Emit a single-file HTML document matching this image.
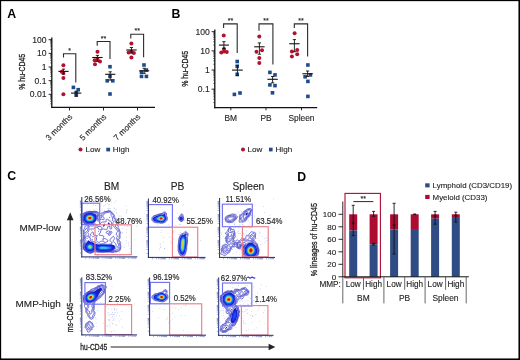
<!DOCTYPE html>
<html><head><meta charset="utf-8"><style>
html,body{margin:0;padding:0;background:#fff;}
svg{display:block;font-family:"Liberation Sans", sans-serif;}
.root{will-change:transform;}
</style></head><body>
<svg width="520" height="360" viewBox="0 0 520 360">
<rect x="0" y="0" width="520" height="360" fill="#fff"/>
<g style="opacity:0.995">
<text x="7.3" y="17.6" font-size="12.3" text-anchor="start" font-weight="bold" fill="#000" >A</text>
<line x1="51.8" y1="37.5" x2="51.8" y2="108.0" stroke="#111" stroke-width="1.3"/>
<line x1="51.199999999999996" y1="107.4" x2="155" y2="107.4" stroke="#111" stroke-width="1.3"/>
<line x1="48.599999999999994" y1="39.7" x2="51.8" y2="39.7" stroke="#111" stroke-width="0.9"/>
<text x="46.5" y="42.7" font-size="8.6" text-anchor="end" font-weight="normal" fill="#222" stroke="#222" stroke-width="0.12">100</text>
<line x1="48.599999999999994" y1="53.35" x2="51.8" y2="53.35" stroke="#111" stroke-width="0.9"/>
<text x="46.5" y="56.35" font-size="8.6" text-anchor="end" font-weight="normal" fill="#222" stroke="#222" stroke-width="0.12">10</text>
<line x1="48.599999999999994" y1="67.0" x2="51.8" y2="67.0" stroke="#111" stroke-width="0.9"/>
<text x="46.5" y="70.0" font-size="8.6" text-anchor="end" font-weight="normal" fill="#222" stroke="#222" stroke-width="0.12">1</text>
<line x1="48.599999999999994" y1="80.65" x2="51.8" y2="80.65" stroke="#111" stroke-width="0.9"/>
<text x="46.5" y="83.65" font-size="8.6" text-anchor="end" font-weight="normal" fill="#222" stroke="#222" stroke-width="0.12">0.1</text>
<line x1="48.599999999999994" y1="94.3" x2="51.8" y2="94.3" stroke="#111" stroke-width="0.9"/>
<text x="46.5" y="97.3" font-size="8.6" text-anchor="end" font-weight="normal" fill="#222" stroke="#222" stroke-width="0.12">0.01</text>
<line x1="50.199999999999996" y1="103.84094055918666" x2="51.8" y2="103.84094055918666" stroke="#111" stroke-width="0.6"/>
<line x1="50.199999999999996" y1="101.43729487307661" x2="51.8" y2="101.43729487307661" stroke="#111" stroke-width="0.6"/>
<line x1="50.199999999999996" y1="99.73188111837331" x2="51.8" y2="99.73188111837331" stroke="#111" stroke-width="0.6"/>
<line x1="50.199999999999996" y1="98.40905944081334" x2="51.8" y2="98.40905944081334" stroke="#111" stroke-width="0.6"/>
<line x1="50.199999999999996" y1="97.32823543226326" x2="51.8" y2="97.32823543226326" stroke="#111" stroke-width="0.6"/>
<line x1="50.199999999999996" y1="96.4144117538054" x2="51.8" y2="96.4144117538054" stroke="#111" stroke-width="0.6"/>
<line x1="50.199999999999996" y1="95.62282167755997" x2="51.8" y2="95.62282167755997" stroke="#111" stroke-width="0.6"/>
<line x1="50.199999999999996" y1="94.92458974615322" x2="51.8" y2="94.92458974615322" stroke="#111" stroke-width="0.6"/>
<line x1="50.199999999999996" y1="90.19094055918666" x2="51.8" y2="90.19094055918666" stroke="#111" stroke-width="0.6"/>
<line x1="50.199999999999996" y1="87.7872948730766" x2="51.8" y2="87.7872948730766" stroke="#111" stroke-width="0.6"/>
<line x1="50.199999999999996" y1="86.08188111837332" x2="51.8" y2="86.08188111837332" stroke="#111" stroke-width="0.6"/>
<line x1="50.199999999999996" y1="84.75905944081335" x2="51.8" y2="84.75905944081335" stroke="#111" stroke-width="0.6"/>
<line x1="50.199999999999996" y1="83.67823543226326" x2="51.8" y2="83.67823543226326" stroke="#111" stroke-width="0.6"/>
<line x1="50.199999999999996" y1="82.76441175380539" x2="51.8" y2="82.76441175380539" stroke="#111" stroke-width="0.6"/>
<line x1="50.199999999999996" y1="81.97282167755998" x2="51.8" y2="81.97282167755998" stroke="#111" stroke-width="0.6"/>
<line x1="50.199999999999996" y1="81.27458974615323" x2="51.8" y2="81.27458974615323" stroke="#111" stroke-width="0.6"/>
<line x1="50.199999999999996" y1="76.54094055918665" x2="51.8" y2="76.54094055918665" stroke="#111" stroke-width="0.6"/>
<line x1="50.199999999999996" y1="74.13729487307661" x2="51.8" y2="74.13729487307661" stroke="#111" stroke-width="0.6"/>
<line x1="50.199999999999996" y1="72.43188111837331" x2="51.8" y2="72.43188111837331" stroke="#111" stroke-width="0.6"/>
<line x1="50.199999999999996" y1="71.10905944081334" x2="51.8" y2="71.10905944081334" stroke="#111" stroke-width="0.6"/>
<line x1="50.199999999999996" y1="70.02823543226326" x2="51.8" y2="70.02823543226326" stroke="#111" stroke-width="0.6"/>
<line x1="50.199999999999996" y1="69.1144117538054" x2="51.8" y2="69.1144117538054" stroke="#111" stroke-width="0.6"/>
<line x1="50.199999999999996" y1="68.32282167755997" x2="51.8" y2="68.32282167755997" stroke="#111" stroke-width="0.6"/>
<line x1="50.199999999999996" y1="67.62458974615322" x2="51.8" y2="67.62458974615322" stroke="#111" stroke-width="0.6"/>
<line x1="50.199999999999996" y1="62.89094055918666" x2="51.8" y2="62.89094055918666" stroke="#111" stroke-width="0.6"/>
<line x1="50.199999999999996" y1="60.48729487307661" x2="51.8" y2="60.48729487307661" stroke="#111" stroke-width="0.6"/>
<line x1="50.199999999999996" y1="58.78188111837331" x2="51.8" y2="58.78188111837331" stroke="#111" stroke-width="0.6"/>
<line x1="50.199999999999996" y1="57.45905944081334" x2="51.8" y2="57.45905944081334" stroke="#111" stroke-width="0.6"/>
<line x1="50.199999999999996" y1="56.37823543226327" x2="51.8" y2="56.37823543226327" stroke="#111" stroke-width="0.6"/>
<line x1="50.199999999999996" y1="55.46441175380539" x2="51.8" y2="55.46441175380539" stroke="#111" stroke-width="0.6"/>
<line x1="50.199999999999996" y1="54.672821677559966" x2="51.8" y2="54.672821677559966" stroke="#111" stroke-width="0.6"/>
<line x1="50.199999999999996" y1="53.974589746153214" x2="51.8" y2="53.974589746153214" stroke="#111" stroke-width="0.6"/>
<line x1="50.199999999999996" y1="49.240940559186654" x2="51.8" y2="49.240940559186654" stroke="#111" stroke-width="0.6"/>
<line x1="50.199999999999996" y1="46.83729487307661" x2="51.8" y2="46.83729487307661" stroke="#111" stroke-width="0.6"/>
<line x1="50.199999999999996" y1="45.131881118373315" x2="51.8" y2="45.131881118373315" stroke="#111" stroke-width="0.6"/>
<line x1="50.199999999999996" y1="43.80905944081334" x2="51.8" y2="43.80905944081334" stroke="#111" stroke-width="0.6"/>
<line x1="50.199999999999996" y1="42.72823543226326" x2="51.8" y2="42.72823543226326" stroke="#111" stroke-width="0.6"/>
<line x1="50.199999999999996" y1="41.81441175380539" x2="51.8" y2="41.81441175380539" stroke="#111" stroke-width="0.6"/>
<line x1="50.199999999999996" y1="41.022821677559975" x2="51.8" y2="41.022821677559975" stroke="#111" stroke-width="0.6"/>
<line x1="50.199999999999996" y1="40.324589746153215" x2="51.8" y2="40.324589746153215" stroke="#111" stroke-width="0.6"/>
<line x1="69.5" y1="107.4" x2="69.5" y2="110.5" stroke="#111" stroke-width="0.9"/>
<text transform="translate(72.8,117.3) rotate(-45)" font-size="8.2" text-anchor="end" fill="#222" stroke="#222" stroke-width="0.12">3 months</text>
<line x1="103.5" y1="107.4" x2="103.5" y2="110.5" stroke="#111" stroke-width="0.9"/>
<text transform="translate(106.8,117.3) rotate(-45)" font-size="8.2" text-anchor="end" fill="#222" stroke="#222" stroke-width="0.12">5 months</text>
<line x1="137.5" y1="107.4" x2="137.5" y2="110.5" stroke="#111" stroke-width="0.9"/>
<text transform="translate(140.8,117.3) rotate(-45)" font-size="8.2" text-anchor="end" fill="#222" stroke="#222" stroke-width="0.12">7 months</text>
<text transform="translate(24.9,71.8) rotate(-90) scale(0.76,1)" font-size="9.2" text-anchor="middle" fill="#222" stroke="#222" stroke-width="0.3">% hu-CD45</text>
<polyline points="63.5,57.5 63.5,53.8 75.8,53.8 75.8,82.5" fill="none" stroke="#2a2a2a" stroke-width="1.1"/>
<text x="69.65" y="53.0" font-size="7" text-anchor="middle" font-weight="normal" fill="#222" stroke="#222" stroke-width="0.12">*</text>
<circle cx="63.4" cy="65.3" r="2.0" fill="#b0122e"/>
<circle cx="63.4" cy="73.0" r="2.0" fill="#b0122e"/>
<circle cx="63.4" cy="78.1" r="2.0" fill="#b0122e"/>
<circle cx="63.4" cy="94.2" r="2.0" fill="#b0122e"/>
<circle cx="61.8" cy="71.8" r="2.0" fill="#b0122e"/>
<line x1="58.4" y1="71.4" x2="68.6" y2="71.4" stroke="#111" stroke-width="1.1"/>
<line x1="63.5" y1="69.1" x2="63.5" y2="74.0" stroke="#111" stroke-width="0.9"/>
<line x1="61.9" y1="69.1" x2="65.1" y2="69.1" stroke="#111" stroke-width="0.9"/>
<line x1="61.9" y1="74.0" x2="65.1" y2="74.0" stroke="#111" stroke-width="0.9"/>
<rect x="71.60000000000001" y="85.60000000000001" width="3.6" height="3.6" fill="#1f4a8a"/>
<rect x="76.4" y="87.9" width="3.6" height="3.6" fill="#1f4a8a"/>
<rect x="74.5" y="91.2" width="3.6" height="3.6" fill="#1f4a8a"/>
<rect x="74.5" y="93.2" width="3.6" height="3.6" fill="#1f4a8a"/>
<line x1="71.0" y1="93.1" x2="81.3" y2="93.1" stroke="#111" stroke-width="1.1"/>
<line x1="76.15" y1="91.2" x2="76.15" y2="96.2" stroke="#111" stroke-width="0.9"/>
<line x1="74.55000000000001" y1="91.2" x2="77.75" y2="91.2" stroke="#111" stroke-width="0.9"/>
<line x1="74.55000000000001" y1="96.2" x2="77.75" y2="96.2" stroke="#111" stroke-width="0.9"/>
<polyline points="97.2,45.7 97.2,41.5 110.0,41.5 110.0,58.9" fill="none" stroke="#2a2a2a" stroke-width="1.1"/>
<text x="103.6" y="40.8" font-size="7" text-anchor="middle" font-weight="normal" fill="#222" stroke="#222" stroke-width="0.12">**</text>
<circle cx="97.5" cy="51.7" r="2.0" fill="#b0122e"/>
<circle cx="94.7" cy="60.3" r="2.0" fill="#b0122e"/>
<circle cx="100.0" cy="61.4" r="2.0" fill="#b0122e"/>
<circle cx="95.0" cy="64.2" r="2.0" fill="#b0122e"/>
<circle cx="97.5" cy="59.5" r="2.0" fill="#b0122e"/>
<line x1="92.2" y1="57.5" x2="102.6" y2="57.5" stroke="#111" stroke-width="1.1"/>
<line x1="97.4" y1="55.4" x2="97.4" y2="61.4" stroke="#111" stroke-width="0.9"/>
<line x1="95.80000000000001" y1="55.4" x2="99.0" y2="55.4" stroke="#111" stroke-width="0.9"/>
<line x1="95.80000000000001" y1="61.4" x2="99.0" y2="61.4" stroke="#111" stroke-width="0.9"/>
<rect x="108.2" y="64.9" width="3.6" height="3.6" fill="#1f4a8a"/>
<rect x="108.2" y="74.60000000000001" width="3.6" height="3.6" fill="#1f4a8a"/>
<rect x="105.4" y="79.0" width="3.6" height="3.6" fill="#1f4a8a"/>
<rect x="111.0" y="79.0" width="3.6" height="3.6" fill="#1f4a8a"/>
<rect x="108.2" y="92.2" width="3.6" height="3.6" fill="#1f4a8a"/>
<line x1="105.1" y1="74.3" x2="115.3" y2="74.3" stroke="#111" stroke-width="1.1"/>
<line x1="110.19999999999999" y1="71.8" x2="110.19999999999999" y2="80.1" stroke="#111" stroke-width="0.9"/>
<line x1="108.6" y1="71.8" x2="111.79999999999998" y2="71.8" stroke="#111" stroke-width="0.9"/>
<line x1="108.6" y1="80.1" x2="111.79999999999998" y2="80.1" stroke="#111" stroke-width="0.9"/>
<polyline points="130.8,38.5 130.8,34.3 143.6,34.3 143.6,57.2" fill="none" stroke="#2a2a2a" stroke-width="1.1"/>
<text x="137.2" y="33.3" font-size="7" text-anchor="middle" font-weight="normal" fill="#222" stroke="#222" stroke-width="0.12">**</text>
<circle cx="131.4" cy="43.6" r="2.0" fill="#b0122e"/>
<circle cx="128.6" cy="52.4" r="2.0" fill="#b0122e"/>
<circle cx="133.9" cy="53.1" r="2.0" fill="#b0122e"/>
<circle cx="131.4" cy="57.6" r="2.0" fill="#b0122e"/>
<circle cx="131.4" cy="51.5" r="2.0" fill="#b0122e"/>
<line x1="126.25" y1="50.0" x2="136.7" y2="50.0" stroke="#111" stroke-width="1.1"/>
<line x1="131.475" y1="47.5" x2="131.475" y2="53.0" stroke="#111" stroke-width="0.9"/>
<line x1="129.875" y1="47.5" x2="133.075" y2="47.5" stroke="#111" stroke-width="0.9"/>
<line x1="129.875" y1="53.0" x2="133.075" y2="53.0" stroke="#111" stroke-width="0.9"/>
<rect x="142.2" y="63.2" width="3.6" height="3.6" fill="#1f4a8a"/>
<rect x="139.7" y="70.4" width="3.6" height="3.6" fill="#1f4a8a"/>
<rect x="144.6" y="68.3" width="3.6" height="3.6" fill="#1f4a8a"/>
<rect x="139.7" y="74.60000000000001" width="3.6" height="3.6" fill="#1f4a8a"/>
<rect x="144.6" y="74.60000000000001" width="3.6" height="3.6" fill="#1f4a8a"/>
<line x1="139.2" y1="70.8" x2="149.2" y2="70.8" stroke="#111" stroke-width="1.1"/>
<line x1="144.2" y1="68.3" x2="144.2" y2="73.3" stroke="#111" stroke-width="0.9"/>
<line x1="142.6" y1="68.3" x2="145.79999999999998" y2="68.3" stroke="#111" stroke-width="0.9"/>
<line x1="142.6" y1="73.3" x2="145.79999999999998" y2="73.3" stroke="#111" stroke-width="0.9"/>
<circle cx="80.5" cy="149.5" r="2.0" fill="#b0122e"/>
<text x="85.6" y="152.2" font-size="8.1" text-anchor="start" font-weight="normal" fill="#222" stroke="#222" stroke-width="0.12">Low</text>
<rect x="106.3" y="147.7" width="3.8" height="3.7" fill="#1f4a8a"/>
<text x="112.8" y="152.2" font-size="8.1" text-anchor="start" font-weight="normal" fill="#222" stroke="#222" stroke-width="0.12">High</text>
<text x="171.5" y="17.9" font-size="12.3" text-anchor="start" font-weight="bold" fill="#000" >B</text>
<line x1="214.8" y1="29.5" x2="214.8" y2="108.19999999999999" stroke="#111" stroke-width="1.3"/>
<line x1="214.20000000000002" y1="107.6" x2="317.2" y2="107.6" stroke="#111" stroke-width="1.3"/>
<line x1="211.60000000000002" y1="31.659999999999997" x2="214.8" y2="31.659999999999997" stroke="#111" stroke-width="0.9"/>
<text x="209.8" y="34.66" font-size="8.6" text-anchor="end" font-weight="normal" fill="#222" stroke="#222" stroke-width="0.12">100</text>
<line x1="211.60000000000002" y1="50.83" x2="214.8" y2="50.83" stroke="#111" stroke-width="0.9"/>
<text x="209.8" y="53.83" font-size="8.6" text-anchor="end" font-weight="normal" fill="#222" stroke="#222" stroke-width="0.12">10</text>
<line x1="211.60000000000002" y1="70.0" x2="214.8" y2="70.0" stroke="#111" stroke-width="0.9"/>
<text x="209.8" y="73.0" font-size="8.6" text-anchor="end" font-weight="normal" fill="#222" stroke="#222" stroke-width="0.12">1</text>
<line x1="211.60000000000002" y1="89.17" x2="214.8" y2="89.17" stroke="#111" stroke-width="0.9"/>
<text x="209.8" y="92.17" font-size="8.6" text-anchor="end" font-weight="normal" fill="#222" stroke="#222" stroke-width="0.12">0.1</text>
<line x1="213.20000000000002" y1="102.56925498312148" x2="214.8" y2="102.56925498312148" stroke="#111" stroke-width="0.6"/>
<line x1="213.20000000000002" y1="99.19358554702407" x2="214.8" y2="99.19358554702407" stroke="#111" stroke-width="0.6"/>
<line x1="213.20000000000002" y1="96.79850996624296" x2="214.8" y2="96.79850996624296" stroke="#111" stroke-width="0.6"/>
<line x1="213.20000000000002" y1="94.94074501687852" x2="214.8" y2="94.94074501687852" stroke="#111" stroke-width="0.6"/>
<line x1="213.20000000000002" y1="93.42284053014555" x2="214.8" y2="93.42284053014555" stroke="#111" stroke-width="0.6"/>
<line x1="213.20000000000002" y1="92.1394705729267" x2="214.8" y2="92.1394705729267" stroke="#111" stroke-width="0.6"/>
<line x1="213.20000000000002" y1="91.02776494936444" x2="214.8" y2="91.02776494936444" stroke="#111" stroke-width="0.6"/>
<line x1="213.20000000000002" y1="90.04717109404814" x2="214.8" y2="90.04717109404814" stroke="#111" stroke-width="0.6"/>
<line x1="213.20000000000002" y1="83.39925498312148" x2="214.8" y2="83.39925498312148" stroke="#111" stroke-width="0.6"/>
<line x1="213.20000000000002" y1="80.02358554702407" x2="214.8" y2="80.02358554702407" stroke="#111" stroke-width="0.6"/>
<line x1="213.20000000000002" y1="77.62850996624296" x2="214.8" y2="77.62850996624296" stroke="#111" stroke-width="0.6"/>
<line x1="213.20000000000002" y1="75.77074501687852" x2="214.8" y2="75.77074501687852" stroke="#111" stroke-width="0.6"/>
<line x1="213.20000000000002" y1="74.25284053014555" x2="214.8" y2="74.25284053014555" stroke="#111" stroke-width="0.6"/>
<line x1="213.20000000000002" y1="72.9694705729267" x2="214.8" y2="72.9694705729267" stroke="#111" stroke-width="0.6"/>
<line x1="213.20000000000002" y1="71.85776494936444" x2="214.8" y2="71.85776494936444" stroke="#111" stroke-width="0.6"/>
<line x1="213.20000000000002" y1="70.87717109404814" x2="214.8" y2="70.87717109404814" stroke="#111" stroke-width="0.6"/>
<line x1="213.20000000000002" y1="64.22925498312148" x2="214.8" y2="64.22925498312148" stroke="#111" stroke-width="0.6"/>
<line x1="213.20000000000002" y1="60.85358554702407" x2="214.8" y2="60.85358554702407" stroke="#111" stroke-width="0.6"/>
<line x1="213.20000000000002" y1="58.45850996624296" x2="214.8" y2="58.45850996624296" stroke="#111" stroke-width="0.6"/>
<line x1="213.20000000000002" y1="56.60074501687852" x2="214.8" y2="56.60074501687852" stroke="#111" stroke-width="0.6"/>
<line x1="213.20000000000002" y1="55.082840530145546" x2="214.8" y2="55.082840530145546" stroke="#111" stroke-width="0.6"/>
<line x1="213.20000000000002" y1="53.799470572926694" x2="214.8" y2="53.799470572926694" stroke="#111" stroke-width="0.6"/>
<line x1="213.20000000000002" y1="52.687764949364436" x2="214.8" y2="52.687764949364436" stroke="#111" stroke-width="0.6"/>
<line x1="213.20000000000002" y1="51.707171094048135" x2="214.8" y2="51.707171094048135" stroke="#111" stroke-width="0.6"/>
<line x1="213.20000000000002" y1="45.05925498312148" x2="214.8" y2="45.05925498312148" stroke="#111" stroke-width="0.6"/>
<line x1="213.20000000000002" y1="41.683585547024066" x2="214.8" y2="41.683585547024066" stroke="#111" stroke-width="0.6"/>
<line x1="213.20000000000002" y1="39.288509966242955" x2="214.8" y2="39.288509966242955" stroke="#111" stroke-width="0.6"/>
<line x1="213.20000000000002" y1="37.43074501687852" x2="214.8" y2="37.43074501687852" stroke="#111" stroke-width="0.6"/>
<line x1="213.20000000000002" y1="35.91284053014555" x2="214.8" y2="35.91284053014555" stroke="#111" stroke-width="0.6"/>
<line x1="213.20000000000002" y1="34.62947057292669" x2="214.8" y2="34.62947057292669" stroke="#111" stroke-width="0.6"/>
<line x1="213.20000000000002" y1="33.51776494936444" x2="214.8" y2="33.51776494936444" stroke="#111" stroke-width="0.6"/>
<line x1="213.20000000000002" y1="32.53717109404814" x2="214.8" y2="32.53717109404814" stroke="#111" stroke-width="0.6"/>
<line x1="230.8" y1="107.6" x2="230.8" y2="110.3" stroke="#111" stroke-width="0.9"/>
<text x="230.8" y="121.3" font-size="8.4" text-anchor="middle" font-weight="normal" fill="#222" stroke="#222" stroke-width="0.12">BM</text>
<line x1="266.0" y1="107.6" x2="266.0" y2="110.3" stroke="#111" stroke-width="0.9"/>
<text x="266.0" y="121.3" font-size="8.4" text-anchor="middle" font-weight="normal" fill="#222" stroke="#222" stroke-width="0.12">PB</text>
<line x1="301.5" y1="107.6" x2="301.5" y2="110.3" stroke="#111" stroke-width="0.9"/>
<text x="301.5" y="121.3" font-size="8.4" text-anchor="middle" font-weight="normal" fill="#222" stroke="#222" stroke-width="0.12">Spleen</text>
<text transform="translate(187.9,68.8) rotate(-90) scale(0.76,1)" font-size="9.2" text-anchor="middle" fill="#222" stroke="#222" stroke-width="0.3">% hu-CD45</text>
<polyline points="223.6,28.0 223.6,23.9 237.2,23.9 237.2,53.0" fill="none" stroke="#2a2a2a" stroke-width="1.1"/>
<text x="230.39999999999998" y="23.4" font-size="7" text-anchor="middle" font-weight="normal" fill="#222" stroke="#222" stroke-width="0.12">**</text>
<circle cx="223.75" cy="35.4" r="2.0" fill="#b0122e"/>
<circle cx="221.3" cy="52.6" r="2.0" fill="#b0122e"/>
<circle cx="224.0" cy="51.4" r="2.0" fill="#b0122e"/>
<circle cx="226.8" cy="52.0" r="2.0" fill="#b0122e"/>
<circle cx="224" cy="49" r="2.0" fill="#b0122e"/>
<line x1="218.9" y1="45.1" x2="228.9" y2="45.1" stroke="#111" stroke-width="1.1"/>
<line x1="223.9" y1="41.7" x2="223.9" y2="48.6" stroke="#111" stroke-width="0.9"/>
<line x1="222.3" y1="41.7" x2="225.5" y2="41.7" stroke="#111" stroke-width="0.9"/>
<line x1="222.3" y1="48.6" x2="225.5" y2="48.6" stroke="#111" stroke-width="0.9"/>
<rect x="235.39999999999998" y="59.7" width="3.6" height="3.6" fill="#1f4a8a"/>
<rect x="235.39999999999998" y="64.60000000000001" width="3.6" height="3.6" fill="#1f4a8a"/>
<rect x="235.39999999999998" y="72.5" width="3.6" height="3.6" fill="#1f4a8a"/>
<rect x="232.6" y="92.60000000000001" width="3.6" height="3.6" fill="#1f4a8a"/>
<rect x="238.2" y="91.2" width="3.6" height="3.6" fill="#1f4a8a"/>
<line x1="232.0" y1="70.1" x2="242.8" y2="70.1" stroke="#111" stroke-width="1.1"/>
<line x1="237.4" y1="65.3" x2="237.4" y2="75.7" stroke="#111" stroke-width="0.9"/>
<line x1="235.8" y1="65.3" x2="239.0" y2="65.3" stroke="#111" stroke-width="0.9"/>
<line x1="235.8" y1="75.7" x2="239.0" y2="75.7" stroke="#111" stroke-width="0.9"/>
<polyline points="259.0,30.8 259.0,23.9 272.9,23.9 272.9,64.4" fill="none" stroke="#2a2a2a" stroke-width="1.1"/>
<text x="265.95" y="23.4" font-size="7" text-anchor="middle" font-weight="normal" fill="#222" stroke="#222" stroke-width="0.12">**</text>
<circle cx="259.3" cy="36.4" r="2.0" fill="#b0122e"/>
<circle cx="262.0" cy="50.3" r="2.0" fill="#b0122e"/>
<circle cx="256.5" cy="51.7" r="2.0" fill="#b0122e"/>
<circle cx="259.3" cy="58.0" r="2.0" fill="#b0122e"/>
<circle cx="259.3" cy="63.0" r="2.0" fill="#b0122e"/>
<line x1="254.2" y1="46.8" x2="264.6" y2="46.8" stroke="#111" stroke-width="1.1"/>
<line x1="259.4" y1="42.9" x2="259.4" y2="54.2" stroke="#111" stroke-width="0.9"/>
<line x1="257.79999999999995" y1="42.9" x2="261.0" y2="42.9" stroke="#111" stroke-width="0.9"/>
<line x1="257.79999999999995" y1="54.2" x2="261.0" y2="54.2" stroke="#111" stroke-width="0.9"/>
<rect x="268.09999999999997" y="70.60000000000001" width="3.6" height="3.6" fill="#1f4a8a"/>
<rect x="273.2" y="73.10000000000001" width="3.6" height="3.6" fill="#1f4a8a"/>
<rect x="268.09999999999997" y="83.10000000000001" width="3.6" height="3.6" fill="#1f4a8a"/>
<rect x="273.2" y="83.8" width="3.6" height="3.6" fill="#1f4a8a"/>
<rect x="270.7" y="91.0" width="3.6" height="3.6" fill="#1f4a8a"/>
<line x1="267.4" y1="79.3" x2="277.8" y2="79.3" stroke="#111" stroke-width="1.1"/>
<line x1="272.6" y1="76.5" x2="272.6" y2="82.8" stroke="#111" stroke-width="0.9"/>
<line x1="271.0" y1="76.5" x2="274.20000000000005" y2="76.5" stroke="#111" stroke-width="0.9"/>
<line x1="271.0" y1="82.8" x2="274.20000000000005" y2="82.8" stroke="#111" stroke-width="0.9"/>
<polyline points="294.3,28.0 294.3,23.9 307.6,23.9 307.6,56.5" fill="none" stroke="#2a2a2a" stroke-width="1.1"/>
<text x="300.95000000000005" y="23.4" font-size="7" text-anchor="middle" font-weight="normal" fill="#222" stroke="#222" stroke-width="0.12">**</text>
<circle cx="294.6" cy="33.2" r="2.0" fill="#b0122e"/>
<circle cx="291.9" cy="51.4" r="2.0" fill="#b0122e"/>
<circle cx="297.2" cy="49.9" r="2.0" fill="#b0122e"/>
<circle cx="297.2" cy="54.2" r="2.0" fill="#b0122e"/>
<circle cx="291.9" cy="56.5" r="2.0" fill="#b0122e"/>
<line x1="289.2" y1="43.75" x2="299.6" y2="43.75" stroke="#111" stroke-width="1.1"/>
<line x1="294.4" y1="39.6" x2="294.4" y2="51.7" stroke="#111" stroke-width="0.9"/>
<line x1="292.79999999999995" y1="39.6" x2="296.0" y2="39.6" stroke="#111" stroke-width="0.9"/>
<line x1="292.79999999999995" y1="51.7" x2="296.0" y2="51.7" stroke="#111" stroke-width="0.9"/>
<rect x="306.09999999999997" y="63.2" width="3.6" height="3.6" fill="#1f4a8a"/>
<rect x="303.3" y="75.0" width="3.6" height="3.6" fill="#1f4a8a"/>
<rect x="308.59999999999997" y="73.10000000000001" width="3.6" height="3.6" fill="#1f4a8a"/>
<rect x="306.09999999999997" y="79.60000000000001" width="3.6" height="3.6" fill="#1f4a8a"/>
<rect x="306.09999999999997" y="94.60000000000001" width="3.6" height="3.6" fill="#1f4a8a"/>
<line x1="302.4" y1="73.75" x2="312.8" y2="73.75" stroke="#111" stroke-width="1.1"/>
<line x1="307.6" y1="71.0" x2="307.6" y2="76.5" stroke="#111" stroke-width="0.9"/>
<line x1="306.0" y1="71.0" x2="309.20000000000005" y2="71.0" stroke="#111" stroke-width="0.9"/>
<line x1="306.0" y1="76.5" x2="309.20000000000005" y2="76.5" stroke="#111" stroke-width="0.9"/>
<circle cx="243.0" cy="149.5" r="2.0" fill="#b0122e"/>
<text x="247.6" y="152.2" font-size="8.1" text-anchor="start" font-weight="normal" fill="#222" stroke="#222" stroke-width="0.12">Low</text>
<rect x="269.0" y="147.7" width="3.6" height="3.7" fill="#1f4a8a"/>
<text x="275.5" y="152.2" font-size="8.1" text-anchor="start" font-weight="normal" fill="#222" stroke="#222" stroke-width="0.12">High</text>
<text x="7.3" y="180.4" font-size="12.3" text-anchor="start" font-weight="bold" fill="#000" >C</text>
<text x="111.7" y="190.0" font-size="10.2" text-anchor="middle" font-weight="normal" fill="#222" stroke="#222" stroke-width="0.12">BM</text>
<text x="177.6" y="190.0" font-size="10.2" text-anchor="middle" font-weight="normal" fill="#222" stroke="#222" stroke-width="0.12">PB</text>
<text x="248.4" y="190.0" font-size="10.2" text-anchor="middle" font-weight="normal" fill="#222" stroke="#222" stroke-width="0.12">Spleen</text>
<text x="40.2" y="231.1" font-size="9.95" text-anchor="middle" font-weight="normal" fill="#222" stroke="#222" stroke-width="0.12">MMP-low</text>
<text x="38.25" y="307.4" font-size="9.95" text-anchor="middle" font-weight="normal" fill="#222" stroke="#222" stroke-width="0.12">MMP-high</text>
<line x1="70.2" y1="219" x2="70.2" y2="302.6" stroke="#222" stroke-width="1.2"/>
<path d="M70.2,212.2 L66.9,220.2 L73.5,220.2 Z" fill="#222"/>
<text transform="translate(73.0,317.5) rotate(-90) scale(0.76,1)" font-size="9.2" text-anchor="middle" fill="#222" stroke="#222" stroke-width="0.3">ms-CD45</text>
<text x="0" y="0" transform="translate(80.3,350.1) scale(0.73,1)" font-size="9.2" text-anchor="start" font-weight="normal" fill="#222" stroke="#222" stroke-width="0.3">hu-CD45</text>
<line x1="110.6" y1="347.0" x2="269.5" y2="347.0" stroke="#222" stroke-width="1.2"/>
<path d="M275.3,347.0 L268.6,343.7 L268.6,350.3 Z" fill="#222"/>
<path d="M247.2,277.6 q1,-1 2,0 t2,0 t2,0 t2,0" fill="none" stroke="#2c2cd0" stroke-width="1.2"/>
<clipPath id="cp0"><rect x="82.39999999999999" y="197.0" width="54.90000000000002" height="59.299999999999955"/></clipPath>
<g clip-path="url(#cp0)">
<path d="M96.8,252.0h.7v.7h-.7zM115.7,200.5h.7v.7h-.7zM97.3,255.3h.7v.7h-.7zM128.8,224.4h.7v.7h-.7zM80.4,221.6h.7v.7h-.7zM107.7,252.5h.7v.7h-.7zM113.2,211.5h.7v.7h-.7zM95.3,205.0h.7v.7h-.7zM119.3,254.7h.7v.7h-.7zM125.7,205.8h.7v.7h-.7zM120.5,224.9h.7v.7h-.7zM131.6,223.6h.7v.7h-.7zM121.3,220.8h.7v.7h-.7zM115.0,216.4h.7v.7h-.7zM117.5,215.4h.7v.7h-.7zM126.3,231.8h.7v.7h-.7zM123.7,247.0h.7v.7h-.7zM104.6,205.6h.7v.7h-.7zM83.5,224.2h.7v.7h-.7zM87.3,194.1h.7v.7h-.7zM116.1,211.8h.7v.7h-.7zM122.4,242.9h.7v.7h-.7zM118.7,224.0h.7v.7h-.7zM110.4,195.3h.7v.7h-.7zM110.1,208.2h.7v.7h-.7zM114.4,207.7h.7v.7h-.7zM121.5,232.8h.7v.7h-.7zM105.2,204.4h.7v.7h-.7zM104.1,209.8h.7v.7h-.7zM126.1,229.2h.7v.7h-.7zM120.4,230.8h.7v.7h-.7zM118.9,215.7h.7v.7h-.7zM100.7,215.4h.7v.7h-.7zM124.8,220.0h.7v.7h-.7zM136.5,224.9h.7v.7h-.7zM111.0,202.6h.7v.7h-.7zM108.5,204.8h.7v.7h-.7zM86.9,204.5h.7v.7h-.7zM108.1,208.7h.7v.7h-.7zM103.4,205.7h.7v.7h-.7zM119.6,218.0h.7v.7h-.7zM126.0,212.5h.7v.7h-.7zM104.8,255.9h.7v.7h-.7zM116.4,213.1h.7v.7h-.7zM118.9,228.7h.7v.7h-.7zM108.8,204.1h.7v.7h-.7zM81.4,214.2h.7v.7h-.7zM126.8,226.2h.7v.7h-.7zM80.5,239.0h.7v.7h-.7zM106.9,203.3h.7v.7h-.7zM126.1,222.3h.7v.7h-.7zM105.1,196.6h.7v.7h-.7zM129.6,248.2h.7v.7h-.7zM96.7,208.8h.7v.7h-.7zM98.9,195.2h.7v.7h-.7zM80.6,241.1h.7v.7h-.7zM116.2,218.9h.7v.7h-.7zM100.9,202.1h.7v.7h-.7zM82.4,225.9h.7v.7h-.7zM101.3,212.6h.7v.7h-.7zM131.2,226.7h.7v.7h-.7zM116.4,209.6h.7v.7h-.7zM84.2,225.6h.7v.7h-.7zM100.5,202.8h.7v.7h-.7zM114.0,202.1h.7v.7h-.7zM119.3,221.6h.7v.7h-.7zM93.6,209.2h.7v.7h-.7zM121.7,231.8h.7v.7h-.7zM114.6,217.7h.7v.7h-.7zM115.1,209.4h.7v.7h-.7zM123.7,245.5h.7v.7h-.7zM128.4,246.4h.7v.7h-.7zM98.9,216.1h.7v.7h-.7zM111.4,198.5h.7v.7h-.7zM128.4,222.9h.7v.7h-.7zM128.2,242.2h.7v.7h-.7zM107.0,208.0h.7v.7h-.7zM125.9,237.1h.7v.7h-.7zM97.7,254.5h.7v.7h-.7zM114.2,210.9h.7v.7h-.7zM86.5,210.4h.7v.7h-.7zM122.0,232.4h.7v.7h-.7zM128.2,244.6h.7v.7h-.7zM116.8,255.1h.7v.7h-.7zM108.6,208.5h.7v.7h-.7zM126.2,240.3h.7v.7h-.7zM98.8,201.3h.7v.7h-.7zM125.9,211.5h.7v.7h-.7zM119.6,254.8h.7v.7h-.7zM113.8,207.8h.7v.7h-.7zM137.2,233.3h.7v.7h-.7zM82.8,230.3h.7v.7h-.7zM96.1,257.5h.7v.7h-.7zM101.6,209.3h.7v.7h-.7zM138.3,242.5h.7v.7h-.7zM121.6,220.3h.7v.7h-.7zM119.9,238.4h.7v.7h-.7zM140.1,204.9h.7v.7h-.7zM136.6,226.1h.7v.7h-.7zM121.8,228.1h.7v.7h-.7zM120.7,215.7h.7v.7h-.7zM126.1,209.4h.7v.7h-.7zM127.1,209.8h.7v.7h-.7zM98.9,216.8h.7v.7h-.7zM79.7,226.2h.7v.7h-.7zM94.4,211.7h.7v.7h-.7zM116.3,220.1h.7v.7h-.7zM125.8,242.5h.7v.7h-.7zM109.6,210.8h.7v.7h-.7zM99.9,194.9h.7v.7h-.7zM124.1,225.7h.7v.7h-.7zM108.5,210.7h.7v.7h-.7zM127.7,225.8h.7v.7h-.7zM97.4,204.8h.7v.7h-.7zM98.1,252.5h.7v.7h-.7zM100.6,205.5h.7v.7h-.7zM134.0,239.6h.7v.7h-.7zM93.3,204.7h.7v.7h-.7zM108.7,207.7h.7v.7h-.7zM118.9,252.2h.7v.7h-.7z" fill="#6f7ddc" opacity="0.55"/>
<path d="M90.9,253.3L90.1,253.3L89.1,253.1L86.9,252.2L85.9,251.6L84.9,250.9L84.2,250.2L83.3,249.0L83.0,248.2L83.0,246.0L83.4,244.2L83.4,243.5L83.2,242.5L82.6,241.2L82.5,240.8L82.8,239.2L83.7,237.0L83.4,234.5L83.6,232.5L83.5,230.0L84.7,228.2L84.8,227.8L84.8,226.8L85.1,226.2L85.6,225.9L86.1,225.8L87.4,226.1L87.7,226.0L88.0,225.5L87.8,225.0L87.4,224.8L86.1,224.8L85.4,224.5L82.7,222.2L82.3,221.8L82.3,220.2L81.7,219.0L81.5,218.2L81.7,216.8L81.6,215.5L81.9,214.5L82.6,213.7L85.6,212.2L87.6,211.6L88.9,211.3L90.1,211.3L91.9,211.6L94.4,211.2L96.1,211.4L97.4,211.8L99.2,212.8L100.1,213.6L100.4,213.6L102.9,212.7L104.1,211.8L104.6,211.5L106.4,211.4L108.4,210.5L110.4,210.9L111.4,211.6L112.7,213.5L113.9,214.4L114.3,215.0L114.5,215.5L114.2,216.8L114.3,217.2L115.4,218.0L115.8,218.5L115.9,220.6L116.4,221.4L117.3,222.0L117.6,222.5L117.6,223.2L117.0,224.5L116.9,225.2L117.1,225.4L117.9,225.5L118.3,225.8L118.4,226.2L118.0,227.0L118.0,227.5L119.2,229.2L119.6,231.0L120.5,232.5L120.0,234.5L120.1,238.0L119.8,238.5L118.9,239.1L118.7,239.5L118.8,240.0L119.8,241.0L120.7,242.5L120.4,243.8L120.9,245.8L120.7,247.8L120.6,248.8L120.1,250.1L119.9,250.5L119.4,250.9L118.1,251.2L116.9,251.9L116.1,252.0L114.4,252.0L113.1,252.7L111.4,252.5L109.6,252.0L104.4,252.2L98.4,252.2L95.1,251.5L94.4,251.7L90.9,253.3ZM99.8,216.5L100.2,216.2L100.3,216.0L100.2,215.2L99.9,215.0L99.6,215.0L99.1,215.4L98.8,216.0L98.9,216.6L99.1,216.7L99.8,216.5ZM90.9,252.8L90.1,252.8L89.4,252.6L87.1,251.9L86.4,251.5L84.8,250.2L84.0,249.2L83.5,248.2L83.5,246.5L84.0,244.0L84.1,242.5L83.9,241.8L83.5,240.8L83.5,239.8L83.6,239.0L84.2,237.5L84.3,236.8L84.1,234.5L84.4,233.0L84.2,231.5L84.3,231.0L84.6,230.5L85.3,230.0L85.9,228.7L87.1,228.3L87.6,227.9L88.8,225.8L88.9,225.2L88.6,224.8L87.7,224.2L86.1,224.2L85.6,224.0L84.0,222.8L83.3,222.0L83.0,221.5L82.7,220.0L82.0,218.5L82.2,215.8L82.4,215.0L82.9,214.2L84.1,213.4L86.1,212.6L89.1,211.8L90.1,211.7L92.1,212.0L94.6,211.8L96.1,211.9L96.9,212.2L97.6,212.6L98.3,213.2L98.6,213.8L98.6,214.5L98.0,216.5L97.9,218.0L98.2,218.8L98.9,219.0L99.4,218.8L100.1,217.9L101.6,217.7L101.7,217.2L101.6,215.2L101.8,214.5L102.3,214.0L103.4,213.5L104.5,212.2L105.1,212.0L108.9,211.4L109.6,211.4L110.4,211.7L111.4,212.5L112.4,214.2L113.3,215.2L113.4,215.8L113.3,217.2L113.4,217.8L113.6,218.1L114.6,218.5L115.1,219.0L115.0,220.5L115.5,222.0L115.6,222.3L116.2,222.8L116.5,223.2L116.2,223.8L115.5,224.8L115.4,226.2L115.9,227.0L117.0,228.0L117.6,228.8L118.4,230.2L119.4,232.8L119.2,234.2L119.2,235.2L119.0,237.5L118.0,238.5L117.9,239.2L118.1,240.4L119.0,241.5L119.2,242.8L119.8,245.0L120.2,247.8L119.9,249.1L119.5,249.8L119.1,250.0L117.9,250.4L116.9,251.2L116.1,251.4L114.4,251.3L112.4,251.7L109.6,251.6L102.1,251.9L98.1,251.7L96.1,251.1L95.1,251.0L94.4,251.2L90.9,252.8ZM90.9,252.3L89.9,252.2L86.9,251.4L85.1,250.1L84.2,248.8L83.9,248.0L83.9,247.0L84.9,242.0L84.8,241.2L84.2,240.0L84.1,239.2L84.8,237.2L85.1,235.2L85.4,234.8L86.3,234.2L86.3,234.0L85.7,233.0L85.6,232.2L85.8,232.0L86.9,231.5L87.4,231.0L87.8,229.2L89.5,226.5L89.9,226.1L90.4,225.9L92.1,226.0L93.4,225.9L94.1,225.5L94.4,225.2L94.5,224.8L94.1,224.2L93.4,223.8L92.6,223.8L90.4,224.4L89.6,224.4L87.9,223.8L86.1,223.6L84.6,222.7L83.6,221.5L83.1,219.9L82.6,218.5L82.5,217.5L82.9,215.2L83.6,214.3L84.6,213.7L89.4,212.2L90.1,212.1L92.1,212.4L95.9,212.4L97.2,213.0L97.6,213.5L97.9,214.0L97.8,214.8L97.4,216.5L97.3,217.8L97.4,218.9L97.8,219.5L98.4,219.8L99.4,220.0L99.9,219.9L100.9,219.3L101.6,219.2L103.6,219.8L103.9,219.7L104.1,219.2L104.0,217.8L103.9,217.4L103.1,217.0L102.7,216.5L102.7,215.8L102.9,215.2L104.4,214.3L104.9,213.2L105.4,212.9L107.1,212.5L108.4,212.5L109.4,212.3L109.9,212.4L110.4,212.8L110.8,213.2L111.0,214.0L111.2,215.5L112.1,216.9L112.7,219.0L112.4,220.3L112.5,220.5L113.4,220.9L113.7,221.2L113.7,221.5L113.1,222.5L112.9,223.0L112.9,225.5L113.1,225.9L114.1,226.6L114.6,227.2L115.9,228.8L116.6,230.0L117.4,230.8L117.6,231.2L117.6,231.8L116.9,232.3L116.2,234.2L116.3,234.8L117.3,235.5L117.5,236.0L117.4,236.5L116.6,237.5L116.5,238.2L117.3,241.0L117.5,242.8L118.4,244.0L118.6,244.8L118.5,245.5L117.7,246.5L117.6,247.0L117.6,247.3L118.4,247.0L118.9,247.1L119.4,247.8L119.3,248.5L118.6,249.0L117.6,248.9L117.4,249.0L116.6,250.2L116.1,250.4L114.4,250.7L112.4,251.2L107.9,251.4L102.1,251.6L98.6,251.3L96.1,250.6L95.1,250.5L94.4,250.7L92.6,251.6L90.9,252.3ZM108.1,233.5L108.4,233.4L109.1,232.4L109.9,232.0L110.4,232.5L110.9,233.3L111.4,233.3L111.6,233.2L111.8,232.8L111.9,232.2L111.6,231.6L111.1,231.2L110.7,231.2L109.9,231.7L109.0,231.0L108.6,230.9L106.4,231.8L106.2,232.5L106.6,233.2L107.4,233.5L108.1,233.5ZM109.9,235.2L110.4,234.8L110.5,234.0L110.1,233.8L108.6,233.8L108.4,234.2L108.6,235.1L109.1,235.4L109.9,235.2ZM93.2,237.0L93.3,236.8L93.1,236.5L92.8,236.5L92.6,236.8L92.6,237.1L92.9,237.2L93.2,237.0ZM92.4,240.2L92.5,240.0L92.4,239.7L91.9,239.6L91.6,239.9L91.6,240.2L91.9,240.4L92.4,240.2ZM91.4,251.6L90.1,251.7L87.9,251.3L86.9,250.9L85.9,250.2L85.2,249.5L84.8,248.8L84.5,247.8L84.5,247.0L85.0,244.8L85.9,242.5L86.0,241.5L86.0,240.5L85.2,239.2L85.3,238.5L85.8,237.0L86.1,236.3L86.6,236.1L87.9,236.1L88.5,234.8L88.7,234.2L88.6,234.0L88.0,233.2L87.7,232.8L87.9,232.2L88.9,231.0L88.9,229.5L89.1,229.1L89.6,228.9L90.6,229.1L92.1,228.9L93.8,229.0L94.1,228.7L94.9,227.6L95.6,227.3L96.9,227.3L97.9,227.6L98.2,228.0L98.4,229.0L98.6,229.2L99.6,229.7L100.6,229.6L101.9,228.8L102.1,228.2L102.0,227.8L101.7,227.2L100.9,226.6L100.1,226.4L98.9,226.7L97.9,226.2L96.6,226.0L96.4,225.8L96.3,225.0L96.1,224.5L95.1,223.7L94.5,223.2L93.4,223.1L90.6,223.7L89.4,223.7L86.1,223.1L84.9,222.2L84.2,221.5L83.8,220.8L83.1,218.0L83.3,216.2L83.8,215.0L84.4,214.4L85.1,214.0L87.1,213.3L90.1,212.6L94.4,213.3L95.9,213.3L96.7,213.8L97.0,214.2L97.0,214.8L96.7,217.0L96.9,220.5L97.1,220.8L98.6,221.0L99.3,221.2L99.6,221.8L99.6,222.8L100.1,223.3L100.6,223.4L100.9,223.3L101.6,222.4L102.1,222.0L103.6,222.1L106.1,221.7L106.4,221.5L106.4,221.2L106.0,220.5L106.1,219.8L106.6,219.2L107.4,219.2L108.1,219.4L108.6,219.7L108.8,220.0L108.9,220.8L109.1,221.0L110.4,221.1L111.1,221.6L111.4,222.0L111.4,223.0L111.9,224.5L111.8,225.2L111.4,226.5L111.8,227.5L111.8,228.0L111.4,228.8L110.6,229.0L110.1,228.8L109.9,228.5L109.8,228.0L110.1,226.8L110.0,226.5L109.1,226.2L108.2,226.2L107.9,226.6L106.9,229.6L106.4,229.7L105.4,229.3L104.4,229.2L103.1,228.9L102.4,229.0L100.8,230.8L100.4,232.8L99.2,233.5L98.9,234.0L99.0,234.8L99.4,235.1L101.9,235.6L103.1,235.7L103.5,236.0L103.7,236.5L103.6,237.5L103.4,238.2L102.7,239.0L102.9,239.6L103.1,239.6L103.3,239.5L103.9,238.6L104.6,238.6L105.6,238.8L106.6,239.3L107.8,240.2L108.2,240.8L108.2,241.0L108.0,241.2L106.9,241.9L104.6,242.6L104.4,242.6L104.1,242.4L103.7,241.0L103.1,240.7L101.9,241.3L100.6,241.3L99.4,242.4L98.6,242.4L97.4,241.8L96.2,240.5L96.6,239.0L96.2,237.2L96.4,236.8L97.4,236.0L97.5,235.8L95.9,235.7L93.3,234.8L93.2,234.2L93.4,233.2L93.3,232.5L93.1,232.1L92.9,232.0L92.1,232.4L90.4,234.0L90.5,234.5L91.1,235.2L90.8,235.8L89.9,236.3L88.6,236.5L88.5,236.8L88.7,237.2L89.1,237.7L90.1,237.7L90.4,237.8L90.5,238.2L90.2,239.8L90.4,240.5L90.7,241.0L91.1,241.4L91.6,241.6L94.6,241.8L96.4,242.9L97.4,243.8L98.5,244.2L103.6,243.7L105.6,244.2L107.9,244.4L110.7,244.0L111.9,243.5L112.1,243.2L112.2,242.8L111.9,242.2L110.6,241.7L110.1,241.2L110.0,240.5L110.2,239.2L110.6,238.6L111.6,238.2L112.4,237.0L112.9,236.4L113.4,236.3L113.6,236.4L114.1,237.2L114.6,238.5L114.5,239.0L114.2,239.5L113.1,240.5L113.0,241.2L113.4,241.8L114.9,242.8L115.4,243.3L116.0,244.5L116.2,245.2L115.9,246.8L115.9,248.2L115.6,249.0L114.9,249.6L112.6,250.6L108.1,251.1L102.4,251.2L98.6,250.9L95.7,250.0L94.9,249.9L94.1,250.1L92.6,251.1L91.4,251.6ZM109.9,217.8L109.6,217.7L109.6,217.3L110.0,217.5L110.0,217.8L109.9,217.8ZM90.9,223.0L89.4,223.1L86.9,222.7L85.6,222.1L84.6,221.2L84.1,220.0L83.7,217.5L84.1,215.8L84.4,215.2L84.9,214.8L87.6,213.7L90.4,213.2L91.4,213.3L93.1,213.8L95.1,214.6L95.7,215.0L96.0,215.8L96.1,218.2L96.0,219.8L95.4,221.0L94.9,221.8L94.1,222.2L90.9,223.0ZM91.1,251.0L90.4,251.1L88.4,250.9L87.1,250.5L85.8,249.5L85.2,248.2L85.1,247.0L85.5,245.2L85.9,244.2L86.9,242.8L88.6,241.6L89.4,241.6L90.8,242.2L92.4,242.7L95.4,244.3L97.9,245.0L98.9,245.0L101.1,244.7L108.1,245.1L111.6,244.9L113.9,246.0L114.3,246.5L114.5,247.2L114.4,248.2L113.9,249.0L112.6,249.9L111.4,250.3L108.1,250.7L102.4,250.8L98.9,250.5L95.4,249.2L94.9,249.2L94.1,249.5L92.4,250.6L91.1,251.0Z" fill="none" stroke="#2020bc" stroke-width="0.62" stroke-linejoin="round"/>
<path d="M90.6,223.3L89.9,223.3L89.4,223.3L86.6,222.8L86.1,222.6L85.4,222.2L84.9,221.8L84.4,221.2L84.0,220.2L83.6,218.2L83.6,217.5L83.7,216.5L84.0,215.5L84.4,215.0L84.9,214.5L87.4,213.6L89.4,213.1L90.4,213.0L91.1,213.1L92.9,213.5L94.4,214.0L95.4,214.2L95.9,214.5L96.1,214.8L96.3,215.5L96.3,217.8L96.3,219.2L96.0,220.2L95.4,221.6L94.9,222.2L94.4,222.4L90.6,223.3ZM110.4,225.0L109.9,225.0L108.9,224.8L108.3,224.5L107.9,224.0L107.8,223.5L107.9,223.0L108.0,222.8L108.4,222.6L108.9,222.6L109.1,222.8L109.6,223.5L109.8,223.8L110.7,224.2L110.8,224.5L110.8,224.8L110.6,224.9L110.4,225.0ZM103.9,226.6L103.4,226.7L103.0,226.5L102.8,226.2L102.8,226.0L102.8,225.8L103.4,225.0L103.7,224.0L103.9,223.8L104.4,223.7L104.9,223.8L105.3,224.0L105.4,224.2L105.4,224.5L104.9,225.2L104.4,226.2L103.9,226.6ZM91.4,231.0L91.1,231.1L91.1,231.0L91.1,230.8L91.4,230.5L91.6,230.5L91.7,230.8L91.4,231.0ZM98.6,231.5L98.4,231.5L98.0,231.2L98.1,231.0L98.6,230.8L99.0,231.0L99.1,231.2L98.9,231.5L98.6,231.5ZM87.4,238.8L87.1,238.8L86.9,238.8L86.6,238.6L86.5,238.2L86.6,237.9L86.9,237.7L87.1,237.7L87.4,237.9L87.5,238.2L87.6,238.5L87.4,238.8ZM90.6,251.3L88.1,251.0L87.1,250.7L86.4,250.2L85.6,249.5L85.3,249.0L85.0,248.2L84.9,247.5L84.9,247.0L85.5,244.5L86.4,242.9L87.3,241.8L87.9,240.5L88.1,240.3L88.4,240.3L88.6,240.4L90.8,242.0L92.9,242.6L95.3,243.8L97.9,244.8L98.9,244.8L100.4,244.6L101.4,244.5L103.9,244.6L108.1,244.9L111.4,244.6L111.9,244.6L113.1,245.0L113.9,245.1L114.3,245.2L114.6,245.8L114.9,247.2L115.0,247.8L114.9,248.2L114.6,248.7L114.4,249.0L112.9,250.0L112.4,250.2L111.6,250.4L108.1,250.8L102.4,250.9L100.1,250.8L98.9,250.6L97.9,250.4L95.6,249.5L94.9,249.4L94.1,249.7L92.6,250.7L92.1,250.9L91.4,251.2L90.6,251.3Z" fill="#161ec8"/>
<path d="M90.9,222.3L89.4,222.4L87.4,222.1L86.9,222.0L86.1,221.6L85.1,220.7L84.9,220.2L84.7,219.8L84.6,218.8L84.7,217.8L85.0,216.2L85.2,215.8L85.6,215.3L86.9,214.6L87.9,214.3L89.1,214.0L90.6,213.9L91.6,214.1L93.1,214.9L94.1,215.5L94.6,216.0L95.1,217.0L95.3,218.0L95.1,219.2L94.7,220.2L94.1,221.0L93.4,221.6L92.4,222.0L90.9,222.3ZM91.1,250.3L90.1,250.3L87.9,250.1L87.4,249.9L86.9,249.6L86.6,249.2L86.2,248.8L86.0,248.2L85.9,247.5L86.3,245.5L86.8,244.5L87.1,244.0L87.6,243.7L88.4,243.4L89.4,243.2L90.4,243.3L91.6,243.5L92.4,243.8L92.9,244.1L93.6,244.8L93.9,245.2L94.2,246.0L94.3,247.0L94.3,247.8L94.1,248.2L93.7,248.8L92.6,249.6L91.9,250.0L91.1,250.3ZM104.6,250.3L102.9,250.3L100.9,250.2L99.9,250.0L98.9,249.8L97.4,249.1L96.5,248.5L96.1,248.0L96.0,247.8L96.1,247.2L96.4,246.8L96.7,246.5L97.2,246.2L100.1,245.5L101.4,245.4L110.6,245.9L111.4,246.1L112.0,246.5L112.5,247.0L112.7,247.5L112.8,248.0L112.5,248.8L112.0,249.2L111.4,249.6L108.4,250.0L104.6,250.3Z" fill="#1435f6"/>
<path d="M90.6,221.8L89.1,221.9L88.1,221.7L87.4,221.5L86.8,221.2L86.1,220.8L85.6,220.3L85.4,220.0L85.3,219.5L85.2,218.8L85.3,217.8L85.6,216.8L85.8,216.2L86.1,215.8L87.1,215.1L87.9,214.8L88.9,214.6L90.4,214.5L91.1,214.6L91.9,214.9L93.4,215.7L94.0,216.2L94.3,216.8L94.6,217.5L94.6,218.2L94.3,219.5L93.9,220.2L93.4,220.8L92.6,221.3L91.9,221.6L90.6,221.8ZM90.9,249.8L89.9,249.8L88.1,249.5L87.4,249.2L86.8,248.5L86.6,248.0L86.6,247.5L86.7,246.5L86.8,245.8L87.1,245.2L87.4,244.8L88.1,244.3L88.9,244.0L89.6,243.9L91.1,244.1L91.9,244.4L92.4,244.7L92.8,245.0L93.1,245.5L93.3,246.0L93.4,246.8L93.4,247.5L93.3,248.0L93.0,248.5L92.1,249.2L91.4,249.6L90.9,249.8ZM105.9,249.8L102.4,249.8L100.9,249.7L99.9,249.5L98.9,249.1L97.9,248.5L97.5,248.0L97.5,247.5L97.8,247.0L98.9,246.5L100.4,246.0L101.6,245.9L105.4,246.0L109.6,246.4L110.4,246.5L110.9,246.8L111.4,247.1L111.7,247.5L111.8,248.0L111.6,248.5L111.4,248.8L110.9,249.1L108.9,249.5L105.9,249.8Z" fill="#174dfb"/>
<path d="M91.4,221.3L89.9,221.5L88.4,221.3L87.6,221.1L87.1,220.9L86.6,220.5L86.1,220.1L85.9,219.8L85.8,219.2L85.8,218.0L85.9,217.2L86.1,216.8L86.7,216.0L87.4,215.5L88.4,215.0L89.4,214.9L90.6,214.9L91.1,215.0L91.9,215.3L93.0,216.0L93.6,216.5L93.9,217.0L94.1,217.8L94.1,218.5L93.7,219.5L93.2,220.2L92.7,220.8L92.1,221.0L91.4,221.3ZM91.1,249.3L90.6,249.4L90.1,249.4L88.9,249.2L88.1,249.0L87.5,248.5L87.2,247.8L87.1,247.2L87.2,246.5L87.3,246.0L87.6,245.5L88.1,244.9L89.1,244.5L90.1,244.4L90.9,244.6L91.6,244.8L92.1,245.2L92.4,245.5L92.7,246.0L92.9,246.5L92.9,247.2L92.8,247.8L92.5,248.2L92.1,248.6L91.6,249.0L91.1,249.3ZM106.6,249.3L105.1,249.5L101.9,249.4L100.6,249.3L99.9,249.1L99.1,248.7L98.6,248.2L98.5,248.0L98.4,247.8L98.5,247.5L98.7,247.2L99.6,246.8L100.9,246.4L101.9,246.3L105.4,246.4L109.1,246.8L110.1,247.1L110.6,247.4L110.9,247.8L110.9,248.0L110.8,248.2L110.6,248.5L110.0,248.8L108.9,249.0L106.6,249.3Z" fill="#1c6dfd"/>
<path d="M90.6,221.0L89.4,221.1L88.1,220.9L87.6,220.7L87.0,220.2L86.6,219.9L86.4,219.5L86.2,219.0L86.2,218.5L86.2,217.8L86.3,217.2L86.6,216.8L86.9,216.3L87.4,215.9L87.9,215.6L88.4,215.4L89.1,215.3L90.1,215.2L90.9,215.3L91.6,215.6L92.4,216.0L93.0,216.5L93.4,217.0L93.6,217.5L93.7,218.2L93.5,219.0L93.1,219.8L92.6,220.2L92.1,220.6L91.6,220.8L90.6,221.0ZM90.4,249.0L89.4,248.9L88.4,248.6L87.9,248.1L87.7,247.5L87.6,247.0L87.7,246.5L88.0,245.8L88.6,245.2L89.4,244.9L90.4,244.9L91.4,245.2L92.1,245.8L92.4,246.5L92.4,247.2L92.1,248.0L91.6,248.5L91.3,248.8L90.9,248.9L90.4,249.0ZM106.1,249.0L105.1,249.1L101.9,249.1L101.1,249.0L100.4,248.8L99.8,248.5L99.4,248.0L99.4,247.8L99.6,247.4L100.3,247.0L101.1,246.7L101.9,246.7L105.1,246.8L108.6,247.2L109.4,247.4L109.6,247.5L109.8,247.8L109.8,248.0L109.6,248.2L109.1,248.4L106.1,249.0Z" fill="#2aa5f5"/>
<path d="M90.1,220.8L88.9,220.7L87.9,220.4L87.0,219.8L86.6,219.0L86.5,218.0L86.6,217.5L86.8,217.0L87.5,216.2L88.4,215.7L88.9,215.6L89.9,215.5L90.6,215.5L91.1,215.7L91.8,216.0L92.5,216.5L92.9,217.0L93.2,217.5L93.3,218.0L93.2,218.5L92.9,219.2L92.6,219.8L92.1,220.2L91.6,220.4L90.1,220.8ZM90.9,248.5L90.1,248.7L89.4,248.5L88.8,248.2L88.3,247.8L88.1,247.2L88.1,246.5L88.3,246.0L88.9,245.5L89.6,245.2L90.4,245.2L91.1,245.5L91.7,246.0L92.0,246.8L91.9,247.5L91.6,248.0L90.9,248.5ZM106.1,248.5L105.1,248.7L103.4,248.6L101.6,248.7L101.1,248.6L100.6,248.4L100.3,248.0L100.3,247.8L100.5,247.5L100.9,247.2L101.9,247.1L105.4,247.2L106.5,247.5L107.2,247.8L107.2,248.0L106.1,248.5Z" fill="#41cdd4"/>
<path d="M90.9,220.3L89.9,220.5L88.9,220.4L87.9,220.0L87.3,219.5L86.9,218.8L86.9,218.0L87.0,217.2L87.6,216.5L88.1,216.1L88.6,215.9L89.4,215.8L90.4,215.8L90.9,215.9L91.4,216.1L92.0,216.5L92.5,217.0L92.8,217.5L92.9,218.0L92.8,218.5L92.7,219.0L92.4,219.5L91.9,219.9L90.9,220.3ZM90.4,248.3L89.8,248.2L89.2,248.0L88.8,247.8L88.5,247.2L88.5,246.8L88.7,246.2L88.9,246.0L89.4,245.6L89.9,245.5L90.6,245.7L91.2,246.0L91.5,246.5L91.6,247.0L91.4,247.6L90.9,248.1L90.4,248.3ZM102.4,248.1L101.9,248.1L101.6,248.1L101.5,248.0L101.6,247.8L101.9,247.7L102.6,247.8L102.6,248.0L102.4,248.1Z" fill="#69dc8a"/>
<path d="M90.6,220.1L89.6,220.2L88.9,220.1L88.1,219.8L87.6,219.2L87.2,218.5L87.2,217.8L87.6,217.0L88.1,216.5L88.6,216.2L89.1,216.1L89.9,216.0L90.6,216.1L91.5,216.5L92.2,217.2L92.5,218.0L92.5,218.5L92.3,219.0L91.9,219.5L91.6,219.7L90.6,220.1ZM90.4,247.8L90.1,247.9L89.6,247.8L89.2,247.5L89.0,247.2L89.0,246.8L89.0,246.5L89.4,246.1L89.9,246.0L90.3,246.0L90.8,246.2L91.0,246.5L91.1,246.8L91.1,247.2L90.9,247.5L90.4,247.8Z" fill="#aee148"/>
<path d="M90.6,219.8L89.9,219.9L89.1,219.8L88.6,219.7L88.1,219.2L87.7,218.8L87.5,218.0L87.6,217.5L88.1,216.8L88.9,216.4L90.1,216.3L90.9,216.5L91.6,217.0L92.1,217.8L92.2,218.2L92.0,218.8L91.6,219.3L91.1,219.6L90.6,219.8ZM90.4,247.0L90.1,247.2L89.9,247.2L89.7,247.0L89.7,246.8L89.9,246.6L90.1,246.6L90.4,246.8L90.4,247.0Z" fill="#f0ce1c"/>
<path d="M90.4,219.5L89.6,219.6L89.1,219.5L88.6,219.3L88.3,219.0L88.0,218.5L87.9,218.0L88.0,217.5L88.4,217.0L89.1,216.7L90.1,216.6L90.9,216.8L91.4,217.2L91.6,217.6L91.8,218.0L91.8,218.5L91.7,218.8L91.1,219.2L90.4,219.5Z" fill="#ff8d14"/>
<path d="M89.9,219.3L89.4,219.2L88.9,219.0L88.6,218.8L88.4,218.2L88.4,217.8L88.5,217.5L88.7,217.2L89.1,217.0L89.9,216.9L90.5,217.0L91.0,217.2L91.4,217.8L91.4,218.2L91.2,218.8L90.6,219.1L89.9,219.3Z" fill="#e92610"/>
<path d="M90.4,218.8L89.6,218.9L89.1,218.6L88.9,218.2L88.9,218.0L88.9,217.8L89.2,217.5L89.6,217.3L90.1,217.3L90.7,217.5L90.9,217.8L91.0,218.2L90.9,218.5L90.4,218.8Z" fill="#d70a0a"/>
</g>
<rect x="81.8" y="203.2" width="17.900000000000006" height="21.400000000000006" fill="none" stroke="#7070f4" stroke-width="1.15"/>
<rect x="95.0" y="224.8" width="36.400000000000006" height="29.899999999999977" fill="none" stroke="#ec7e86" stroke-width="1.15"/>
<line x1="81.8" y1="197.0" x2="81.8" y2="257.4" stroke="#1c2870" stroke-width="1.0"/>
<line x1="81.3" y1="256.9" x2="137.3" y2="256.9" stroke="#1c2870" stroke-width="1.0"/>
<path d="M85.8,257.4v1.4M81.3,252.9h-1.4M89.7,257.4v1.4M81.3,249.0h-1.4M92.0,257.4v1.4M81.3,246.7h-1.4M93.6,257.4v1.4M81.3,245.1h-1.4M94.9,257.4v1.4M81.3,243.8h-1.4M95.9,257.4v1.4M81.3,242.8h-1.4M96.8,257.4v1.4M81.3,241.9h-1.4M97.5,257.4v1.4M81.3,241.2h-1.4M98.2,257.4v1.4M81.3,240.5h-1.4M98.8,257.4v1.4M81.3,239.9h-1.4M102.7,257.4v1.4M81.3,236.0h-1.4M105.0,257.4v1.4M81.3,233.7h-1.4M106.6,257.4v1.4M81.3,232.1h-1.4M107.9,257.4v1.4M81.3,230.8h-1.4M108.9,257.4v1.4M81.3,229.8h-1.4M109.8,257.4v1.4M81.3,228.9h-1.4M110.5,257.4v1.4M81.3,228.2h-1.4M111.2,257.4v1.4M81.3,227.5h-1.4M111.8,257.4v1.4M81.3,226.9h-1.4M115.7,257.4v1.4M81.3,223.0h-1.4M118.0,257.4v1.4M81.3,220.7h-1.4M119.6,257.4v1.4M81.3,219.1h-1.4M120.9,257.4v1.4M81.3,217.8h-1.4M121.9,257.4v1.4M81.3,216.8h-1.4M122.8,257.4v1.4M81.3,215.9h-1.4M123.5,257.4v1.4M81.3,215.2h-1.4M124.2,257.4v1.4M81.3,214.5h-1.4M124.8,257.4v1.4M81.3,213.9h-1.4M128.7,257.4v1.4M81.3,210.0h-1.4M131.0,257.4v1.4M81.3,207.7h-1.4M132.6,257.4v1.4M81.3,206.1h-1.4M133.9,257.4v1.4M81.3,204.8h-1.4M134.9,257.4v1.4M81.3,203.8h-1.4M135.8,257.4v1.4M81.3,202.9h-1.4M81.3,202.2h-1.4M81.3,201.5h-1.4M81.3,200.9h-1.4" stroke="#4a58a0" stroke-width="0.5" fill="none"/>
<text x="0" y="0" transform="translate(84.2,202.0) scale(0.93,1)" font-size="8.4" text-anchor="start" font-weight="normal" fill="#222" stroke="#222" stroke-width="0.15">26.56%</text>
<text x="0" y="0" transform="translate(115.8,223.8) scale(0.93,1)" font-size="8.4" text-anchor="start" font-weight="normal" fill="#222" stroke="#222" stroke-width="0.15">48.76%</text>
<clipPath id="cp1"><rect x="149.0" y="198.5" width="56.5" height="58.299999999999955"/></clipPath>
<g clip-path="url(#cp1)">
<path d="M175.6,225.3h.7v.7h-.7zM157.4,224.6h.7v.7h-.7zM179.2,234.4h.7v.7h-.7zM171.7,237.8h.7v.7h-.7zM173.2,232.3h.7v.7h-.7zM189.5,222.7h.7v.7h-.7zM159.3,248.7h.7v.7h-.7zM173.3,230.7h.7v.7h-.7zM159.8,243.3h.7v.7h-.7zM159.9,244.6h.7v.7h-.7zM161.3,213.0h.7v.7h-.7zM146.8,241.2h.7v.7h-.7zM176.4,216.9h.7v.7h-.7zM164.4,248.1h.7v.7h-.7zM180.0,232.3h.7v.7h-.7zM161.3,230.2h.7v.7h-.7zM183.1,204.4h.7v.7h-.7zM159.8,207.1h.7v.7h-.7zM173.5,238.8h.7v.7h-.7zM170.2,241.3h.7v.7h-.7zM195.3,217.6h.7v.7h-.7zM169.6,236.5h.7v.7h-.7zM167.7,233.1h.7v.7h-.7zM160.7,232.1h.7v.7h-.7zM177.5,212.8h.7v.7h-.7zM161.6,235.4h.7v.7h-.7zM168.7,224.7h.7v.7h-.7zM177.8,234.5h.7v.7h-.7zM184.3,220.3h.7v.7h-.7zM177.7,245.6h.7v.7h-.7zM183.5,213.9h.7v.7h-.7zM190.5,253.6h.7v.7h-.7zM163.5,237.3h.7v.7h-.7zM179.3,224.3h.7v.7h-.7zM168.4,226.9h.7v.7h-.7zM160.5,246.6h.7v.7h-.7zM181.6,213.4h.7v.7h-.7zM177.2,218.4h.7v.7h-.7zM200.4,240.0h.7v.7h-.7zM161.8,258.7h.7v.7h-.7zM195.7,223.1h.7v.7h-.7zM164.0,248.3h.7v.7h-.7zM168.8,236.9h.7v.7h-.7zM185.1,230.6h.7v.7h-.7zM182.4,205.6h.7v.7h-.7zM197.4,234.5h.7v.7h-.7zM179.9,224.3h.7v.7h-.7zM160.5,247.3h.7v.7h-.7zM163.3,241.6h.7v.7h-.7zM171.2,243.2h.7v.7h-.7z" fill="#6f7ddc" opacity="0.55"/>
<path d="M163.2,223.0L161.5,223.2L160.2,223.1L158.5,222.8L156.2,222.8L155.2,222.5L153.5,221.8L152.6,221.2L152.1,220.5L151.8,218.8L152.1,217.5L153.0,216.3L154.0,215.7L155.6,215.2L158.0,214.3L162.0,213.4L163.1,212.5L163.8,212.1L164.8,212.0L165.5,212.2L166.2,212.8L166.4,213.2L166.5,214.0L166.4,215.5L167.3,217.5L167.3,219.5L166.9,220.5L166.0,221.6L164.8,222.4L163.2,223.0ZM181.8,221.5L180.8,221.4L179.5,220.6L178.9,219.8L178.6,218.5L178.9,217.2L180.0,215.8L180.7,214.5L181.2,214.1L181.8,214.0L182.4,214.2L182.9,215.0L183.6,218.0L183.7,218.8L183.5,219.8L183.0,220.8L182.5,221.2L181.8,221.5ZM183.8,256.3L182.8,256.5L181.2,256.1L180.0,255.3L179.4,254.5L178.8,252.3L178.1,250.5L178.1,246.2L178.4,244.0L178.8,238.8L179.9,236.0L181.2,234.0L181.8,233.7L183.2,233.3L184.5,232.1L185.5,231.8L186.5,232.1L187.5,232.8L188.0,233.8L188.1,234.8L187.4,237.8L187.5,241.5L186.8,246.5L186.7,249.5L185.4,254.2L184.6,255.5L183.8,256.3ZM162.2,222.8L160.5,222.7L158.2,222.2L156.0,222.2L153.8,221.3L153.1,220.8L152.6,219.8L152.5,218.5L152.9,217.5L153.5,216.7L154.5,216.1L159.8,214.3L160.8,214.1L162.6,214.0L163.5,213.0L164.0,212.7L164.8,212.7L165.2,212.8L165.7,213.2L165.9,213.8L165.7,215.8L166.7,217.8L166.7,218.5L166.6,219.5L166.2,220.5L165.2,221.5L163.5,222.4L162.2,222.8ZM182.0,220.9L181.0,221.0L180.2,220.6L179.4,219.8L179.1,218.8L179.1,218.0L179.5,217.2L181.0,215.4L181.5,215.0L182.0,215.2L182.2,215.6L183.1,217.8L183.2,218.5L183.2,219.2L182.9,220.0L182.5,220.5L182.0,220.9ZM183.0,255.5L181.8,255.4L180.8,254.9L180.2,254.5L179.7,253.5L178.8,250.8L178.6,246.8L179.3,239.5L179.6,238.2L180.1,237.0L181.2,235.1L182.0,234.5L183.8,234.0L185.0,232.8L185.8,232.6L186.5,232.9L187.0,233.2L187.3,233.8L187.5,234.2L187.3,235.0L186.6,236.0L186.4,236.5L186.9,239.5L187.0,241.0L186.7,244.0L186.3,246.5L186.1,249.0L185.1,253.2L184.8,254.0L184.0,255.1L183.0,255.5Z" fill="none" stroke="#2020bc" stroke-width="0.62" stroke-linejoin="round"/>
<path d="M162.8,222.3L162.0,222.4L161.0,222.4L160.2,222.3L158.2,221.9L156.5,221.8L155.5,221.6L154.5,221.2L153.8,220.7L153.2,220.0L153.0,219.0L153.0,218.5L153.1,218.0L153.4,217.5L153.9,217.0L154.5,216.6L155.0,216.4L157.1,215.8L159.2,214.9L160.0,214.6L161.0,214.5L162.5,214.5L163.1,214.5L163.6,214.2L164.1,213.5L164.5,213.3L164.8,213.4L165.0,213.5L165.2,214.0L165.0,215.0L165.1,215.5L166.1,217.2L166.2,217.8L166.3,218.5L166.2,219.2L165.8,220.2L165.1,221.0L163.8,221.9L162.8,222.3ZM181.8,220.5L181.0,220.6L180.2,220.2L179.7,219.5L179.4,218.8L179.5,218.0L179.9,217.2L180.5,216.7L181.2,216.3L181.5,216.3L181.8,216.4L182.2,216.9L182.7,217.8L182.9,218.5L182.8,219.2L182.6,219.8L182.2,220.2L181.8,220.5ZM183.0,254.8L182.5,254.9L181.8,254.7L181.0,254.4L180.6,254.0L180.1,253.2L179.3,251.0L179.1,249.8L178.9,246.8L179.6,240.0L179.9,238.8L180.3,237.5L180.9,236.2L181.5,235.5L182.0,235.1L182.5,234.9L184.3,234.5L184.6,234.2L185.2,233.5L185.8,233.4L186.2,233.5L186.5,233.7L186.7,234.0L186.8,234.2L186.6,234.8L185.9,235.5L185.7,235.8L185.7,236.0L185.8,236.7L186.4,239.0L186.6,240.8L186.4,243.8L186.0,246.0L185.7,249.2L184.8,252.8L184.5,253.5L184.2,254.0L183.8,254.4L183.0,254.8Z" fill="#161ec8"/>
<path d="M162.2,221.8L161.2,221.8L160.2,221.7L158.4,221.2L156.5,221.0L155.5,220.6L154.8,220.2L154.3,219.8L154.1,219.0L154.2,218.2L154.5,217.8L155.2,217.2L157.5,216.4L159.2,215.6L160.0,215.3L160.8,215.1L161.5,215.1L162.8,215.3L163.5,215.6L164.2,216.0L165.1,217.0L165.4,217.5L165.5,218.0L165.6,218.8L165.2,219.8L164.5,220.6L163.2,221.5L162.2,221.8ZM181.8,219.5L181.5,219.7L181.0,219.7L180.6,219.5L180.4,219.2L180.2,218.8L180.2,218.3L180.4,218.0L180.8,217.6L181.2,217.5L181.5,217.6L181.9,218.0L182.0,218.2L182.1,218.8L182.0,219.1L181.8,219.5ZM182.8,253.5L182.0,253.6L181.5,253.4L181.0,252.9L180.5,252.0L180.2,251.2L180.0,250.2L179.7,247.8L179.6,246.8L180.0,243.2L180.1,241.0L180.3,239.8L180.6,238.8L181.1,237.5L181.8,236.5L182.0,236.2L182.5,235.8L183.2,235.6L183.8,235.7L184.2,236.0L184.6,236.5L184.9,237.0L185.3,238.0L185.6,239.0L185.8,240.0L185.8,241.0L185.7,244.0L185.1,248.8L184.9,249.8L184.4,251.5L184.0,252.5L183.5,253.1L182.8,253.5Z" fill="#1435f6"/>
<path d="M162.5,221.3L161.8,221.4L160.5,221.3L156.5,220.3L155.8,220.0L155.2,219.5L155.0,219.0L155.1,218.5L155.5,218.0L156.0,217.6L159.2,216.0L160.0,215.7L160.8,215.6L161.5,215.5L162.2,215.6L163.0,215.9L164.0,216.4L164.6,217.0L165.0,217.8L165.1,218.5L165.0,219.0L164.8,219.5L164.2,220.2L163.5,220.8L162.5,221.3ZM182.8,252.6L182.2,252.7L181.8,252.6L181.2,252.1L180.9,251.5L180.6,250.8L180.4,249.8L180.1,247.8L180.1,246.8L180.3,245.0L180.5,241.0L180.9,239.2L181.4,238.0L182.0,237.1L182.5,236.6L182.8,236.4L183.2,236.3L183.8,236.5L184.2,237.0L184.8,238.0L185.1,239.0L185.4,240.2L185.3,243.2L184.7,248.5L184.5,249.8L184.1,250.8L183.7,251.8L183.2,252.3L182.8,252.6Z" fill="#174dfb"/>
<path d="M162.2,221.0L161.2,221.1L160.2,221.0L157.1,220.0L156.5,219.7L156.0,219.2L156.0,219.0L156.0,218.5L156.2,218.2L156.8,217.8L159.2,216.4L160.0,216.1L160.8,215.9L161.2,215.8L162.0,215.9L162.8,216.1L163.5,216.5L164.2,217.2L164.6,217.8L164.7,218.5L164.5,219.2L164.0,220.0L163.2,220.6L162.2,221.0ZM182.8,251.8L182.2,251.9L182.0,251.9L181.5,251.5L181.2,251.0L180.9,250.2L180.7,249.5L180.5,247.5L180.4,246.8L180.6,245.0L180.9,241.2L181.1,239.8L181.6,238.5L182.2,237.6L182.8,237.2L183.2,237.1L183.8,237.3L184.1,237.8L184.5,238.5L184.9,239.5L185.0,240.5L185.0,243.5L184.4,248.2L184.2,249.5L183.9,250.2L183.5,251.1L183.2,251.5L182.8,251.8Z" fill="#1c6dfd"/>
<path d="M162.2,220.8L161.5,220.8L160.5,220.7L159.2,220.4L158.1,220.0L157.2,219.6L156.9,219.2L156.8,219.0L156.7,218.8L156.8,218.5L157.3,218.0L158.0,217.5L159.2,216.8L160.0,216.4L160.8,216.2L161.2,216.1L162.0,216.2L162.8,216.4L163.3,216.8L163.9,217.2L164.2,217.8L164.4,218.5L164.2,219.2L163.8,219.8L163.0,220.4L162.2,220.8ZM182.8,251.1L182.2,251.2L182.0,251.1L181.6,250.8L181.3,250.2L181.0,249.0L180.8,247.5L180.8,246.8L180.9,245.2L181.1,241.5L181.4,240.0L181.8,239.1L182.2,238.3L182.8,237.9L183.2,237.8L183.5,237.9L184.0,238.4L184.4,239.0L184.6,239.8L184.7,240.5L184.7,243.5L184.0,249.0L183.5,250.2L183.2,250.8L182.8,251.1Z" fill="#2aa5f5"/>
<path d="M162.0,220.6L161.2,220.6L160.5,220.5L159.5,220.2L158.8,219.9L158.0,219.5L157.7,219.2L157.5,219.0L157.5,218.8L157.5,218.5L157.9,218.0L158.8,217.3L159.5,216.8L160.2,216.5L160.8,216.4L161.5,216.4L162.2,216.5L162.8,216.7L163.5,217.2L163.9,217.8L164.1,218.2L164.1,218.8L163.8,219.4L163.2,220.0L162.8,220.3L162.0,220.6ZM182.5,250.5L182.2,250.5L182.0,250.4L181.8,250.1L181.5,249.6L181.2,248.0L181.1,246.8L181.3,245.2L181.4,241.8L181.7,240.2L181.9,239.5L182.2,239.0L182.8,238.5L183.2,238.4L183.8,238.7L184.0,239.0L184.2,239.5L184.4,240.0L184.4,240.8L184.4,243.8L183.8,248.0L183.6,249.0L183.2,250.0L182.8,250.4L182.5,250.5Z" fill="#41cdd4"/>
<path d="M162.0,220.3L161.5,220.4L160.8,220.3L159.8,220.1L159.0,219.7L158.5,219.4L158.1,219.0L158.1,218.8L158.2,218.2L158.6,217.8L159.2,217.3L159.8,217.0L160.5,216.7L161.0,216.6L161.8,216.6L162.8,217.0L163.2,217.4L163.6,217.8L163.8,218.2L163.8,218.8L163.5,219.2L163.1,219.8L162.5,220.1L162.0,220.3ZM182.5,249.8L182.2,249.8L182.0,249.6L181.8,249.2L181.5,247.8L181.4,247.0L181.6,245.2L181.6,243.0L181.8,241.2L182.1,240.0L182.6,239.2L183.0,239.0L183.2,239.0L183.5,239.2L183.8,239.4L184.0,239.8L184.1,240.2L184.1,243.8L183.4,248.5L183.0,249.4L182.8,249.7L182.5,249.8Z" fill="#69dc8a"/>
<path d="M162.0,220.1L161.5,220.1L160.8,220.1L160.0,219.9L159.2,219.6L158.8,219.2L158.6,219.0L158.5,218.8L158.6,218.2L159.3,217.5L160.0,217.1L160.5,216.9L161.5,216.8L162.0,216.9L162.5,217.1L163.0,217.5L163.3,217.8L163.5,218.2L163.5,218.8L163.2,219.2L163.0,219.5L162.5,219.9L162.0,220.1ZM182.5,248.9L182.2,248.7L182.0,248.2L181.8,247.2L182.0,245.5L181.8,244.0L181.9,243.0L182.0,241.8L182.3,240.5L182.8,239.8L183.0,239.7L183.2,239.7L183.6,240.0L183.8,240.5L183.8,243.8L183.4,245.8L183.2,247.1L183.1,248.0L182.8,248.7L182.5,248.9Z" fill="#aee148"/>
<path d="M162.0,219.8L161.5,219.9L161.0,219.9L160.3,219.8L159.7,219.5L159.3,219.2L159.1,219.0L158.9,218.8L159.0,218.2L159.4,217.8L159.7,217.5L160.5,217.1L161.0,217.0L161.5,217.0L162.2,217.3L162.9,217.8L163.1,218.0L163.2,218.5L163.1,219.0L162.9,219.2L162.5,219.6L162.0,219.8ZM183.0,245.0L182.8,245.2L182.5,244.9L182.2,244.2L182.2,243.5L182.2,242.5L182.5,241.5L182.8,241.0L183.0,240.7L183.3,241.0L183.5,243.5L183.4,244.2L183.0,245.0Z" fill="#f0ce1c"/>
<path d="M162.0,219.6L161.5,219.7L161.0,219.7L160.0,219.4L159.5,219.0L159.3,218.8L159.4,218.2L159.8,217.8L160.2,217.5L160.8,217.3L161.5,217.3L162.2,217.5L162.7,218.0L162.9,218.5L162.7,219.0L162.5,219.3L162.0,219.6Z" fill="#ff8d14"/>
<path d="M162.0,219.3L161.2,219.4L160.4,219.2L160.0,219.0L159.8,218.8L159.7,218.5L159.8,218.2L160.2,217.8L160.8,217.6L161.5,217.5L162.0,217.7L162.3,218.0L162.5,218.5L162.3,219.0L162.0,219.3Z" fill="#e92610"/>
<path d="M161.8,219.0L161.2,219.1L160.6,219.0L160.3,218.8L160.2,218.5L160.2,218.2L160.5,218.0L161.0,217.8L161.5,217.8L161.8,218.0L162.0,218.2L162.1,218.5L162.0,218.8L161.8,219.0Z" fill="#d70a0a"/>
</g>
<rect x="148.4" y="204.6" width="24.0" height="22.599999999999994" fill="none" stroke="#7070f4" stroke-width="1.15"/>
<rect x="172.4" y="227.2" width="25.299999999999983" height="29.80000000000001" fill="none" stroke="#ec7e86" stroke-width="1.15"/>
<line x1="148.4" y1="198.5" x2="148.4" y2="257.9" stroke="#1c2870" stroke-width="1.0"/>
<line x1="147.9" y1="257.4" x2="205.5" y2="257.4" stroke="#1c2870" stroke-width="1.0"/>
<path d="M152.4,257.9v1.4M147.9,253.4h-1.4M156.3,257.9v1.4M147.9,249.5h-1.4M158.6,257.9v1.4M147.9,247.2h-1.4M160.2,257.9v1.4M147.9,245.6h-1.4M161.5,257.9v1.4M147.9,244.3h-1.4M162.5,257.9v1.4M147.9,243.3h-1.4M163.4,257.9v1.4M147.9,242.4h-1.4M164.1,257.9v1.4M147.9,241.7h-1.4M164.8,257.9v1.4M147.9,241.0h-1.4M165.4,257.9v1.4M147.9,240.4h-1.4M169.3,257.9v1.4M147.9,236.5h-1.4M171.6,257.9v1.4M147.9,234.2h-1.4M173.2,257.9v1.4M147.9,232.6h-1.4M174.5,257.9v1.4M147.9,231.3h-1.4M175.5,257.9v1.4M147.9,230.3h-1.4M176.4,257.9v1.4M147.9,229.4h-1.4M177.1,257.9v1.4M147.9,228.7h-1.4M177.8,257.9v1.4M147.9,228.0h-1.4M178.4,257.9v1.4M147.9,227.4h-1.4M182.3,257.9v1.4M147.9,223.5h-1.4M184.6,257.9v1.4M147.9,221.2h-1.4M186.2,257.9v1.4M147.9,219.6h-1.4M187.5,257.9v1.4M147.9,218.3h-1.4M188.5,257.9v1.4M147.9,217.3h-1.4M189.4,257.9v1.4M147.9,216.4h-1.4M190.1,257.9v1.4M147.9,215.7h-1.4M190.8,257.9v1.4M147.9,215.0h-1.4M191.4,257.9v1.4M147.9,214.4h-1.4M195.3,257.9v1.4M147.9,210.5h-1.4M197.6,257.9v1.4M147.9,208.2h-1.4M199.2,257.9v1.4M147.9,206.6h-1.4M200.5,257.9v1.4M147.9,205.3h-1.4M201.5,257.9v1.4M147.9,204.3h-1.4M202.4,257.9v1.4M147.9,203.4h-1.4M203.1,257.9v1.4M147.9,202.7h-1.4M203.8,257.9v1.4M147.9,202.0h-1.4M204.4,257.9v1.4M147.9,201.4h-1.4" stroke="#4a58a0" stroke-width="0.5" fill="none"/>
<text x="0" y="0" transform="translate(152.4,202.7) scale(0.93,1)" font-size="8.4" text-anchor="start" font-weight="normal" fill="#222" stroke="#222" stroke-width="0.15">40.92%</text>
<text x="0" y="0" transform="translate(186.4,223.6) scale(0.93,1)" font-size="8.4" text-anchor="start" font-weight="normal" fill="#222" stroke="#222" stroke-width="0.15">55.25%</text>
<clipPath id="cp2"><rect x="220.2" y="198.0" width="54.80000000000001" height="58.799999999999955"/></clipPath>
<g clip-path="url(#cp2)">
<path d="M254.9,232.5h.7v.7h-.7zM240.3,214.8h.7v.7h-.7zM248.2,235.9h.7v.7h-.7zM238.3,230.7h.7v.7h-.7zM234.1,230.0h.7v.7h-.7zM268.4,238.9h.7v.7h-.7zM245.0,236.9h.7v.7h-.7zM260.0,244.0h.7v.7h-.7zM240.3,233.3h.7v.7h-.7zM238.6,228.4h.7v.7h-.7zM247.8,224.9h.7v.7h-.7zM236.6,204.6h.7v.7h-.7zM224.6,231.9h.7v.7h-.7zM243.7,225.6h.7v.7h-.7zM232.6,222.6h.7v.7h-.7zM220.3,215.5h.7v.7h-.7zM242.5,233.3h.7v.7h-.7zM257.6,243.0h.7v.7h-.7zM258.9,231.6h.7v.7h-.7zM273.4,228.0h.7v.7h-.7zM269.7,214.7h.7v.7h-.7zM242.5,233.0h.7v.7h-.7zM232.3,249.3h.7v.7h-.7zM233.6,221.7h.7v.7h-.7zM251.2,215.2h.7v.7h-.7zM240.7,223.8h.7v.7h-.7zM242.1,231.1h.7v.7h-.7zM237.4,216.5h.7v.7h-.7zM243.2,225.6h.7v.7h-.7zM244.1,235.3h.7v.7h-.7zM239.8,219.0h.7v.7h-.7zM221.6,206.1h.7v.7h-.7zM260.3,232.4h.7v.7h-.7zM225.0,220.7h.7v.7h-.7zM256.1,219.1h.7v.7h-.7zM263.6,252.9h.7v.7h-.7zM246.0,230.2h.7v.7h-.7zM241.0,236.9h.7v.7h-.7zM246.7,234.3h.7v.7h-.7zM272.9,196.8h.7v.7h-.7zM259.1,233.2h.7v.7h-.7zM259.2,249.6h.7v.7h-.7zM241.3,235.5h.7v.7h-.7zM234.5,235.4h.7v.7h-.7zM232.4,252.9h.7v.7h-.7zM249.1,222.5h.7v.7h-.7zM239.1,214.3h.7v.7h-.7zM243.2,233.7h.7v.7h-.7zM262.8,225.4h.7v.7h-.7zM235.8,213.5h.7v.7h-.7zM237.8,211.6h.7v.7h-.7zM244.8,221.5h.7v.7h-.7zM238.9,224.7h.7v.7h-.7zM264.0,238.1h.7v.7h-.7zM257.7,225.4h.7v.7h-.7zM258.6,234.9h.7v.7h-.7zM257.4,217.5h.7v.7h-.7zM264.0,212.0h.7v.7h-.7zM239.5,254.4h.7v.7h-.7zM264.1,220.7h.7v.7h-.7zM240.0,221.9h.7v.7h-.7zM261.7,243.7h.7v.7h-.7zM266.9,218.5h.7v.7h-.7zM234.1,223.5h.7v.7h-.7zM247.7,221.1h.7v.7h-.7zM239.0,233.1h.7v.7h-.7zM246.4,231.8h.7v.7h-.7zM251.6,214.7h.7v.7h-.7zM234.2,224.2h.7v.7h-.7zM243.5,197.1h.7v.7h-.7zM258.9,240.6h.7v.7h-.7zM251.5,209.4h.7v.7h-.7zM235.5,237.1h.7v.7h-.7zM273.0,198.5h.7v.7h-.7zM217.7,225.6h.7v.7h-.7zM237.5,231.8h.7v.7h-.7zM236.7,235.4h.7v.7h-.7zM264.5,242.3h.7v.7h-.7zM233.2,226.1h.7v.7h-.7zM234.9,226.8h.7v.7h-.7zM225.1,242.7h.7v.7h-.7zM242.6,232.5h.7v.7h-.7zM221.2,234.3h.7v.7h-.7zM237.9,227.2h.7v.7h-.7zM242.3,224.0h.7v.7h-.7zM241.1,252.4h.7v.7h-.7zM265.0,257.2h.7v.7h-.7zM232.5,230.5h.7v.7h-.7zM224.6,243.1h.7v.7h-.7zM241.3,211.3h.7v.7h-.7zM237.9,233.1h.7v.7h-.7zM254.0,215.8h.7v.7h-.7zM239.2,215.8h.7v.7h-.7zM267.8,222.0h.7v.7h-.7zM249.0,235.4h.7v.7h-.7zM261.9,235.9h.7v.7h-.7zM266.5,222.6h.7v.7h-.7zM256.8,238.3h.7v.7h-.7zM236.9,242.1h.7v.7h-.7zM266.4,240.0h.7v.7h-.7zM228.6,224.4h.7v.7h-.7zM223.9,238.1h.7v.7h-.7zM222.6,236.3h.7v.7h-.7zM265.9,237.5h.7v.7h-.7zM243.3,244.6h.7v.7h-.7zM243.6,233.0h.7v.7h-.7zM260.9,221.6h.7v.7h-.7zM217.2,233.9h.7v.7h-.7zM236.4,251.7h.7v.7h-.7zM224.5,229.0h.7v.7h-.7zM239.3,215.4h.7v.7h-.7zM248.1,219.8h.7v.7h-.7zM219.8,195.7h.7v.7h-.7zM226.9,228.9h.7v.7h-.7zM217.1,220.1h.7v.7h-.7zM217.1,216.7h.7v.7h-.7zM228.9,252.5h.7v.7h-.7zM251.8,218.4h.7v.7h-.7zM263.1,206.3h.7v.7h-.7zM220.9,232.5h.7v.7h-.7z" fill="#6f7ddc" opacity="0.55"/>
<path d="M242.9,222.3L241.4,221.9L240.7,221.9L239.4,222.3L239.2,222.0L239.7,216.2L240.0,215.2L240.4,214.8L242.1,213.8L243.6,211.5L246.1,210.0L246.9,209.1L247.7,208.9L249.9,208.6L250.7,208.7L251.2,208.9L251.6,209.5L251.7,210.2L250.6,213.0L250.2,215.0L249.5,216.2L248.7,217.1L247.2,218.0L246.9,218.5L246.7,219.8L246.2,220.5L244.4,221.4L243.4,222.1L242.9,222.3ZM231.7,222.5L230.4,222.5L229.2,222.7L227.2,222.3L226.4,222.0L226.0,221.5L225.6,220.8L225.1,219.0L225.1,218.0L225.9,216.6L226.3,216.2L229.2,215.1L230.9,214.6L231.9,213.9L232.7,213.9L233.7,214.2L235.2,214.3L235.7,214.7L236.2,215.5L237.2,216.5L237.4,217.2L236.7,218.2L235.8,219.8L234.3,220.8L232.9,222.0L231.7,222.5ZM254.7,259.3L252.9,259.4L250.4,259.3L249.2,258.8L247.4,258.6L246.1,258.0L244.2,256.3L243.9,255.8L243.5,254.2L242.7,253.4L242.5,253.0L242.5,251.5L242.0,250.0L242.1,249.0L243.2,247.3L243.7,246.0L243.7,245.2L243.4,245.0L242.9,244.8L242.2,244.8L241.6,245.2L241.2,246.3L240.8,248.2L240.5,248.8L240.2,248.9L239.4,248.9L238.2,248.4L237.4,248.0L235.7,246.7L235.2,246.6L233.9,246.9L232.4,246.9L232.1,247.0L231.5,247.8L231.1,249.5L230.4,250.5L230.0,251.8L228.2,253.1L226.7,253.9L225.9,255.0L225.2,255.5L224.7,255.7L223.9,255.6L223.3,255.2L222.4,254.2L222.2,254.1L221.2,254.4L220.6,254.0L220.4,253.5L220.5,253.2L220.9,253.0L221.4,252.9L221.7,252.7L221.8,252.5L221.8,252.0L221.4,251.0L221.1,249.2L221.3,248.8L222.1,247.5L222.2,246.2L222.4,245.8L222.9,245.3L225.4,244.5L226.9,244.3L227.5,244.0L228.0,243.5L227.9,243.2L226.9,242.9L226.5,242.5L226.1,242.0L225.9,241.2L225.8,239.5L225.5,238.5L225.5,237.8L225.8,237.0L226.7,236.0L227.0,235.2L226.7,234.8L225.6,234.0L225.5,233.8L225.8,233.0L227.7,230.7L228.4,228.8L229.2,227.6L229.9,227.3L230.7,227.6L231.1,228.0L231.4,229.4L231.7,229.8L232.2,229.8L233.4,229.1L233.9,229.4L234.2,230.5L235.0,232.8L235.1,233.5L234.8,235.2L235.4,236.5L234.4,237.6L233.3,240.2L233.4,240.5L233.7,240.7L235.4,241.0L235.7,241.0L236.7,240.2L237.4,240.0L237.9,240.2L238.7,240.9L239.2,240.9L239.7,240.6L240.6,239.5L241.2,239.0L242.9,238.3L243.4,238.3L244.9,239.0L245.4,239.1L245.7,238.8L246.2,235.9L246.4,235.6L246.9,235.5L248.2,236.0L248.7,235.9L248.9,235.5L248.9,234.5L249.1,234.0L249.7,233.3L250.8,232.5L251.4,231.7L251.7,231.6L252.9,232.2L254.7,232.4L255.3,232.8L255.6,233.2L255.7,234.2L255.4,235.8L255.5,237.5L255.3,238.5L254.7,239.2L253.2,239.3L252.7,239.5L252.4,240.0L252.4,240.3L252.9,240.6L254.2,240.4L254.4,240.5L254.7,240.8L255.6,242.2L257.3,244.0L257.6,244.8L257.9,246.2L258.4,247.5L258.8,249.0L259.0,251.5L258.5,254.5L258.3,255.0L257.9,255.5L256.7,256.3L254.7,259.3ZM236.2,244.5L236.4,243.7L236.6,242.5L236.4,242.1L235.9,241.9L235.7,242.0L235.3,242.8L235.1,243.8L235.4,244.6L235.9,244.7L236.2,244.5ZM243.4,221.0L242.9,221.2L242.2,221.2L241.3,220.8L240.8,220.2L240.5,219.2L240.3,216.5L240.5,215.8L241.0,215.2L242.2,215.0L242.7,214.7L244.0,212.2L245.2,211.1L246.8,210.5L247.6,209.8L248.2,209.5L249.4,209.2L250.4,209.3L250.9,209.8L251.0,210.5L250.0,213.0L249.7,214.5L249.0,216.0L248.3,216.8L247.2,217.3L246.7,217.7L245.9,219.8L245.4,220.1L244.2,220.5L243.4,221.0ZM231.4,221.8L227.7,221.5L226.9,221.3L226.5,220.8L225.9,219.2L225.8,218.5L226.0,218.0L226.3,217.5L226.9,217.0L229.4,215.6L231.2,215.4L232.4,215.0L234.7,215.2L235.8,216.2L236.3,217.0L235.6,219.0L234.9,219.7L233.2,220.5L232.1,221.5L231.4,221.8ZM224.7,253.8L224.2,253.7L223.3,253.0L222.9,251.5L221.9,249.5L222.1,248.8L222.7,247.8L222.9,246.2L223.2,246.0L223.7,245.8L226.4,245.9L226.9,245.8L228.4,244.6L229.9,244.3L230.4,244.1L230.8,243.8L231.1,243.2L231.1,242.2L230.7,241.9L229.7,241.9L227.7,242.2L227.2,242.1L226.8,241.8L226.5,241.2L226.4,240.8L226.6,239.2L226.2,238.0L226.4,237.2L227.5,236.0L227.7,235.5L227.7,234.8L227.1,233.8L227.1,233.2L228.5,232.0L228.9,229.0L229.4,228.3L229.9,228.2L230.4,228.5L230.7,229.0L230.5,230.8L230.7,231.3L231.2,231.7L231.7,231.8L232.7,231.3L233.2,231.3L233.8,231.8L234.3,232.8L234.4,234.0L233.4,238.5L232.9,239.4L232.0,240.5L231.9,241.0L232.2,241.3L233.9,241.5L234.5,241.8L234.6,242.2L234.5,243.8L234.6,245.5L234.4,245.8L233.9,246.1L231.9,246.2L231.4,246.4L230.9,247.2L230.4,249.2L229.0,251.5L227.9,252.2L226.7,252.4L225.4,253.4L224.7,253.8ZM253.7,259.3L252.4,259.2L251.7,258.9L247.4,258.0L246.7,257.5L245.9,256.5L244.7,255.5L243.5,252.8L242.8,250.0L243.0,248.8L244.6,245.2L244.7,244.5L244.4,244.1L243.9,244.0L242.9,244.0L242.2,244.1L241.4,244.5L241.1,245.0L240.3,247.5L239.9,247.9L239.4,248.1L238.4,248.0L237.5,247.5L236.9,246.8L236.6,246.0L237.1,243.2L237.7,242.1L238.2,241.9L239.4,241.7L240.6,241.2L241.2,240.8L241.9,239.8L242.7,239.4L243.7,239.4L245.7,240.2L248.3,239.5L248.8,239.0L249.2,237.4L250.1,236.2L250.8,235.0L252.4,233.8L253.7,233.5L254.2,233.6L254.4,233.8L254.7,234.2L254.7,236.5L254.5,237.2L253.9,237.9L251.8,239.2L251.6,239.5L251.4,240.0L251.6,240.5L252.2,241.0L254.2,242.0L256.4,243.8L256.9,244.2L257.2,245.0L257.3,246.2L258.3,249.2L258.5,251.2L258.4,252.2L257.8,254.5L257.4,255.0L256.1,256.0L255.2,257.5L253.7,259.3ZM242.7,220.3L242.2,220.2L241.7,219.5L241.6,218.5L241.8,217.2L242.0,216.8L243.2,215.4L244.9,212.2L245.7,211.5L247.4,211.2L247.7,211.1L248.3,210.2L248.7,210.0L249.4,209.8L250.1,210.0L250.3,210.5L250.2,211.1L249.5,212.5L249.1,214.5L248.3,216.0L247.9,216.3L246.4,217.2L245.3,219.2L243.9,219.7L242.7,220.3ZM231.4,221.1L230.7,221.2L229.4,221.1L227.9,220.8L227.4,220.5L226.9,219.9L226.6,219.0L226.6,218.5L226.9,218.0L227.9,217.1L229.7,216.2L231.4,216.2L233.7,215.8L234.7,216.1L235.2,216.8L235.4,217.2L235.3,218.0L235.1,218.8L234.4,219.4L232.7,220.0L231.4,221.1ZM228.4,241.3L227.7,241.3L227.3,241.0L227.3,240.5L227.6,239.5L227.0,238.0L227.2,237.2L228.3,236.0L228.5,235.5L228.6,235.0L228.5,234.0L228.6,233.5L229.4,232.6L229.9,232.3L231.4,232.8L232.7,232.8L233.2,232.9L233.5,233.2L233.6,234.0L232.5,238.8L231.9,239.4L229.9,240.8L228.4,241.3ZM251.2,238.5L250.4,238.4L250.2,238.0L250.4,237.5L251.4,236.0L251.9,235.6L252.4,235.4L253.2,235.4L253.4,235.6L253.7,236.2L253.3,237.0L252.2,238.1L251.2,238.5ZM253.7,258.0L252.9,258.2L251.2,258.2L248.2,257.6L247.4,257.2L246.4,256.1L244.9,254.7L244.1,252.5L243.6,250.2L243.6,249.5L244.1,247.5L245.5,244.8L245.7,244.0L245.7,243.5L245.4,242.9L244.9,242.4L243.4,242.5L242.8,242.2L242.6,241.8L242.5,241.2L242.7,240.8L242.9,240.6L243.4,240.4L243.9,240.5L245.4,241.4L249.4,240.4L250.2,240.4L253.9,242.8L254.9,243.7L256.0,244.2L256.4,244.8L256.8,246.2L257.9,249.5L258.1,251.0L258.0,252.0L257.6,253.5L257.3,254.2L255.7,255.8L254.5,257.5L253.7,258.0ZM239.2,247.6L238.2,247.4L237.7,247.0L237.3,246.5L237.3,245.8L237.6,243.5L237.9,242.9L238.4,242.6L239.9,242.4L240.7,242.5L241.2,242.8L241.3,243.0L241.3,243.2L240.6,244.2L240.1,246.8L239.7,247.3L239.2,247.6ZM233.2,245.3L232.4,245.2L232.0,245.0L231.9,244.8L232.3,243.0L232.7,242.7L233.2,242.6L233.4,242.7L233.6,243.0L233.7,244.5L233.5,245.0L233.2,245.3ZM224.9,252.3L224.4,252.3L224.2,252.2L222.8,249.8L222.8,249.0L223.7,247.5L224.4,247.1L227.4,246.7L228.7,245.8L229.2,245.7L229.8,246.0L230.1,246.5L230.1,247.5L229.8,248.8L229.3,249.5L228.2,250.6L225.8,251.0L224.9,252.3ZM244.4,218.5L243.9,218.6L243.4,218.4L243.3,218.0L243.4,217.2L243.7,216.0L245.3,213.0L245.7,212.4L246.2,212.2L246.9,212.1L247.9,212.4L248.4,212.8L248.6,213.5L248.5,214.2L248.1,215.0L247.5,215.8L245.9,216.6L244.9,218.2L244.4,218.5ZM230.9,220.3L229.9,220.3L228.2,219.6L227.7,219.0L227.8,218.5L228.5,217.8L229.7,217.0L231.4,217.2L233.7,216.6L234.2,216.7L234.4,216.9L234.7,217.8L234.4,218.5L233.9,218.8L232.2,219.3L230.9,220.3ZM230.4,239.0L229.7,239.1L228.7,238.8L228.1,238.2L228.0,237.8L228.2,237.3L228.7,236.9L230.4,236.5L230.8,236.0L231.1,234.8L231.7,234.5L231.9,234.6L232.1,235.0L231.8,237.8L231.4,238.5L230.4,239.0ZM253.2,257.5L251.9,257.7L249.9,257.6L248.9,257.4L248.2,257.1L245.4,254.5L245.0,253.8L244.5,252.5L244.3,251.2L244.3,249.0L244.6,247.2L246.4,244.3L247.4,242.9L248.2,242.4L249.4,241.9L250.7,241.8L251.7,242.1L253.4,243.2L255.5,245.0L256.8,247.2L257.4,249.5L257.6,250.8L257.6,251.8L257.0,253.8L256.5,254.5L255.1,255.8L254.2,256.9L253.2,257.5ZM239.2,246.8L238.7,246.9L238.3,246.8L238.1,246.5L237.9,246.0L238.2,244.1L238.7,243.5L238.9,243.5L239.4,243.8L239.7,244.8L239.6,246.0L239.2,246.8ZM225.2,250.0L224.7,250.2L224.2,250.2L223.7,249.6L223.6,249.2L223.8,248.8L224.4,248.1L225.4,247.8L226.9,247.7L227.7,247.9L228.1,248.2L228.2,249.0L227.4,249.7L226.7,250.0L225.2,250.0Z" fill="none" stroke="#2020bc" stroke-width="0.62" stroke-linejoin="round"/>
<path d="M245.4,215.5L245.2,215.7L245.2,215.5L245.4,214.9L245.8,213.5L246.2,213.0L246.4,212.9L246.9,212.9L247.4,213.0L247.7,213.2L247.8,213.5L247.8,214.0L247.7,214.4L247.4,214.8L246.9,215.2L245.4,215.5ZM233.7,218.1L233.2,218.2L232.9,218.2L232.8,218.0L232.8,217.8L232.9,217.6L233.2,217.4L233.4,217.4L233.8,217.5L233.9,217.8L233.7,218.1ZM252.4,257.3L249.7,257.3L248.9,257.1L248.4,256.8L245.6,254.2L245.0,253.2L244.7,252.0L244.6,248.5L244.8,247.8L245.1,247.0L245.9,246.0L246.7,244.7L247.4,243.9L247.9,243.6L248.7,243.1L249.4,242.8L250.4,242.6L251.4,242.6L252.4,243.1L253.4,243.7L255.2,245.4L256.2,246.8L256.6,247.5L257.3,250.2L257.3,251.2L257.2,252.0L256.9,253.2L256.5,254.0L256.1,254.5L255.0,255.5L253.7,256.8L253.2,257.1L252.4,257.3ZM226.7,249.1L226.4,249.2L225.9,249.1L225.6,249.0L225.5,248.8L226.2,248.6L226.7,248.6L226.9,248.8L226.8,249.0L226.7,249.1Z" fill="#161ec8"/>
<path d="M252.4,256.0L251.7,256.2L250.2,256.2L249.4,256.1L248.9,255.9L247.2,254.5L246.4,253.8L246.0,253.0L245.7,252.0L245.7,248.8L245.8,248.2L246.0,247.8L246.7,246.9L247.4,245.8L247.9,245.3L248.9,244.9L250.7,244.5L251.4,244.4L252.4,244.7L253.4,245.3L254.4,246.2L255.4,247.2L255.7,247.8L255.9,248.2L256.2,250.2L256.3,251.2L256.1,252.2L255.8,253.2L255.5,253.8L254.9,254.3L253.4,255.5L252.4,256.0Z" fill="#1435f6"/>
<path d="M250.7,255.5L249.9,255.5L249.2,255.2L247.9,254.2L246.9,253.2L246.5,252.5L246.3,251.8L246.3,249.5L246.4,248.8L246.6,248.2L247.7,246.7L248.1,246.2L248.4,246.0L249.2,245.7L250.2,245.5L250.9,245.4L251.9,245.5L252.9,246.0L253.7,246.5L254.8,247.5L255.1,248.0L255.3,248.5L255.5,250.2L255.5,251.0L255.4,252.0L255.2,252.8L254.9,253.2L254.5,253.8L253.2,254.8L252.4,255.2L251.7,255.4L250.7,255.5Z" fill="#174dfb"/>
<path d="M251.9,254.8L251.2,254.9L250.4,254.9L249.7,254.8L249.2,254.6L248.4,254.0L247.7,253.2L247.1,252.5L246.9,251.8L246.8,251.0L246.8,249.8L246.9,249.0L247.1,248.5L247.9,247.3L248.4,246.8L248.9,246.4L249.7,246.1L250.4,246.0L251.2,246.0L251.9,246.2L252.7,246.5L253.4,247.0L254.2,247.7L254.6,248.2L254.8,248.8L254.9,249.8L255.0,250.8L254.9,251.8L254.6,252.5L254.2,253.1L253.2,254.0L252.4,254.6L251.9,254.8Z" fill="#1c6dfd"/>
<path d="M251.9,254.3L251.2,254.5L250.4,254.5L249.7,254.4L249.2,254.1L248.4,253.5L247.8,252.8L247.4,252.0L247.2,251.5L247.2,250.8L247.2,249.8L247.3,249.2L247.6,248.5L248.2,247.7L248.7,247.1L249.2,246.8L249.9,246.5L250.4,246.4L251.2,246.4L251.9,246.6L252.7,246.9L253.4,247.5L253.9,248.0L254.2,248.5L254.4,249.0L254.6,250.0L254.6,250.8L254.5,251.5L254.3,252.0L253.9,252.6L253.4,253.2L252.7,253.8L251.9,254.3Z" fill="#2aa5f5"/>
<path d="M251.4,254.0L250.7,254.1L250.2,254.1L249.7,254.0L249.2,253.7L248.7,253.2L248.1,252.5L247.7,251.8L247.5,251.0L247.5,250.2L247.6,249.5L247.8,249.0L248.2,248.2L248.7,247.7L249.2,247.2L249.7,246.9L250.4,246.7L250.9,246.7L251.7,246.8L252.2,247.0L252.9,247.5L253.4,248.0L253.8,248.5L254.0,249.0L254.2,249.8L254.2,250.5L254.2,251.2L254.0,251.8L253.8,252.2L253.2,252.9L252.4,253.5L251.9,253.8L251.4,254.0Z" fill="#41cdd4"/>
<path d="M250.7,253.8L250.2,253.7L249.7,253.6L249.2,253.3L248.7,252.8L248.3,252.2L248.0,251.5L247.9,251.0L247.9,250.2L248.0,249.5L248.2,249.0L248.9,247.9L249.4,247.5L249.9,247.2L250.4,247.0L250.9,247.0L251.7,247.1L252.2,247.4L252.7,247.8L253.2,248.2L253.5,248.8L253.7,249.2L253.9,250.0L253.9,250.8L253.6,251.8L253.3,252.2L252.9,252.8L252.3,253.2L251.9,253.5L251.2,253.7L250.7,253.8Z" fill="#69dc8a"/>
<path d="M251.4,253.3L250.4,253.4L249.9,253.3L249.4,253.1L248.9,252.6L248.6,252.0L248.4,251.5L248.2,250.8L248.3,249.8L248.7,248.8L249.2,248.2L249.7,247.7L250.2,247.4L250.7,247.3L251.2,247.3L251.7,247.4L252.5,248.0L253.0,248.5L253.3,249.0L253.6,250.0L253.5,251.0L253.3,251.8L252.9,252.2L252.4,252.8L251.9,253.1L251.4,253.3Z" fill="#aee148"/>
<path d="M251.2,253.0L250.7,253.1L250.2,253.1L249.7,252.9L249.4,252.7L249.1,252.2L248.9,251.8L248.6,251.0L248.6,250.5L248.7,249.5L249.2,248.7L249.7,248.1L250.2,247.8L250.9,247.6L251.7,247.8L252.5,248.5L253.0,249.2L253.2,249.8L253.3,250.2L253.2,251.0L252.9,251.8L251.9,252.7L251.2,253.0Z" fill="#f0ce1c"/>
<path d="M250.7,252.8L250.2,252.7L249.9,252.6L249.4,252.1L249.1,251.2L249.0,250.2L249.1,249.5L249.6,248.8L250.2,248.2L250.5,248.0L250.9,247.9L251.4,248.0L251.7,248.2L252.4,249.0L252.8,249.8L252.9,250.5L252.7,251.2L252.2,252.0L251.4,252.6L250.7,252.8Z" fill="#ff8d14"/>
<path d="M251.2,252.3L250.7,252.4L250.4,252.4L249.9,252.1L249.6,251.5L249.4,250.5L249.5,249.8L249.7,249.2L250.4,248.5L250.9,248.3L251.4,248.5L252.0,249.0L252.4,249.8L252.5,250.2L252.4,250.8L252.2,251.3L251.7,251.9L251.2,252.3Z" fill="#e92610"/>
<path d="M250.9,251.8L250.4,251.8L250.2,251.5L250.0,251.0L249.9,250.2L250.0,249.8L250.2,249.4L250.7,249.0L250.9,248.9L251.2,249.0L251.7,249.5L251.9,249.8L252.0,250.2L251.9,250.8L251.6,251.2L251.2,251.7L250.9,251.8Z" fill="#d70a0a"/>
</g>
<rect x="222.4" y="204.2" width="29.900000000000006" height="22.5" fill="none" stroke="#7070f4" stroke-width="1.15"/>
<rect x="242.4" y="226.7" width="25.799999999999983" height="30.100000000000023" fill="none" stroke="#ec7e86" stroke-width="1.15"/>
<line x1="219.6" y1="198.0" x2="219.6" y2="257.9" stroke="#1c2870" stroke-width="1.0"/>
<line x1="219.1" y1="257.4" x2="275.0" y2="257.4" stroke="#1c2870" stroke-width="1.0"/>
<path d="M223.6,257.9v1.4M219.1,253.4h-1.4M227.5,257.9v1.4M219.1,249.5h-1.4M229.8,257.9v1.4M219.1,247.2h-1.4M231.4,257.9v1.4M219.1,245.6h-1.4M232.7,257.9v1.4M219.1,244.3h-1.4M233.7,257.9v1.4M219.1,243.3h-1.4M234.6,257.9v1.4M219.1,242.4h-1.4M235.3,257.9v1.4M219.1,241.7h-1.4M236.0,257.9v1.4M219.1,241.0h-1.4M236.6,257.9v1.4M219.1,240.4h-1.4M240.5,257.9v1.4M219.1,236.5h-1.4M242.8,257.9v1.4M219.1,234.2h-1.4M244.4,257.9v1.4M219.1,232.6h-1.4M245.7,257.9v1.4M219.1,231.3h-1.4M246.7,257.9v1.4M219.1,230.3h-1.4M247.6,257.9v1.4M219.1,229.4h-1.4M248.3,257.9v1.4M219.1,228.7h-1.4M249.0,257.9v1.4M219.1,228.0h-1.4M249.6,257.9v1.4M219.1,227.4h-1.4M253.5,257.9v1.4M219.1,223.5h-1.4M255.8,257.9v1.4M219.1,221.2h-1.4M257.4,257.9v1.4M219.1,219.6h-1.4M258.7,257.9v1.4M219.1,218.3h-1.4M259.7,257.9v1.4M219.1,217.3h-1.4M260.6,257.9v1.4M219.1,216.4h-1.4M261.3,257.9v1.4M219.1,215.7h-1.4M262.0,257.9v1.4M219.1,215.0h-1.4M262.6,257.9v1.4M219.1,214.4h-1.4M266.5,257.9v1.4M219.1,210.5h-1.4M268.8,257.9v1.4M219.1,208.2h-1.4M270.4,257.9v1.4M219.1,206.6h-1.4M271.7,257.9v1.4M219.1,205.3h-1.4M272.7,257.9v1.4M219.1,204.3h-1.4M273.6,257.9v1.4M219.1,203.4h-1.4M219.1,202.7h-1.4M219.1,202.0h-1.4M219.1,201.4h-1.4" stroke="#4a58a0" stroke-width="0.5" fill="none"/>
<text x="0" y="0" transform="translate(225.4,202.1) scale(0.93,1)" font-size="8.4" text-anchor="start" font-weight="normal" fill="#222" stroke="#222" stroke-width="0.15">11.51%</text>
<text x="0" y="0" transform="translate(256.0,224.1) scale(0.93,1)" font-size="8.4" text-anchor="start" font-weight="normal" fill="#222" stroke="#222" stroke-width="0.15">63.54%</text>
<clipPath id="cp3"><rect x="82.39999999999999" y="277.4" width="54.60000000000001" height="56.89999999999998"/></clipPath>
<g clip-path="url(#cp3)">
<path d="M121.5,311.1h.7v.7h-.7zM108.3,319.3h.7v.7h-.7zM117.1,303.3h.7v.7h-.7zM109.2,319.2h.7v.7h-.7zM109.6,325.7h.7v.7h-.7zM112.0,312.0h.7v.7h-.7zM114.5,312.5h.7v.7h-.7zM96.0,325.9h.7v.7h-.7zM112.1,315.7h.7v.7h-.7zM111.5,331.3h.7v.7h-.7zM113.7,319.7h.7v.7h-.7zM117.1,312.6h.7v.7h-.7zM102.7,322.7h.7v.7h-.7zM119.0,315.6h.7v.7h-.7zM121.9,299.9h.7v.7h-.7zM107.8,312.1h.7v.7h-.7zM114.1,309.2h.7v.7h-.7zM114.9,312.3h.7v.7h-.7zM112.4,320.6h.7v.7h-.7zM111.0,331.6h.7v.7h-.7zM105.5,305.9h.7v.7h-.7zM116.3,325.3h.7v.7h-.7zM122.3,326.8h.7v.7h-.7zM106.8,306.6h.7v.7h-.7zM108.8,323.7h.7v.7h-.7zM92.5,329.1h.7v.7h-.7zM86.7,322.9h.7v.7h-.7zM114.3,309.5h.7v.7h-.7zM111.4,308.7h.7v.7h-.7zM115.2,331.4h.7v.7h-.7zM111.3,314.1h.7v.7h-.7zM108.6,320.5h.7v.7h-.7zM94.9,317.0h.7v.7h-.7zM89.3,318.6h.7v.7h-.7zM112.6,323.1h.7v.7h-.7zM113.0,314.1h.7v.7h-.7zM113.3,313.9h.7v.7h-.7zM88.3,315.4h.7v.7h-.7zM87.3,315.5h.7v.7h-.7zM116.3,309.7h.7v.7h-.7zM111.8,313.7h.7v.7h-.7zM112.5,335.3h.7v.7h-.7zM113.7,316.4h.7v.7h-.7zM120.8,318.8h.7v.7h-.7zM108.8,315.6h.7v.7h-.7zM115.0,324.0h.7v.7h-.7zM108.5,298.5h.7v.7h-.7zM114.2,314.3h.7v.7h-.7zM100.0,301.8h.7v.7h-.7zM113.5,330.4h.7v.7h-.7zM106.8,325.2h.7v.7h-.7zM108.1,308.2h.7v.7h-.7zM114.9,306.4h.7v.7h-.7zM93.2,318.6h.7v.7h-.7zM112.4,315.8h.7v.7h-.7zM110.8,321.9h.7v.7h-.7zM112.9,319.4h.7v.7h-.7zM109.4,320.2h.7v.7h-.7zM95.7,322.6h.7v.7h-.7zM116.0,315.1h.7v.7h-.7zM94.7,318.6h.7v.7h-.7zM106.4,333.3h.7v.7h-.7zM95.9,318.6h.7v.7h-.7zM110.3,296.1h.7v.7h-.7zM92.0,322.8h.7v.7h-.7zM119.2,320.7h.7v.7h-.7zM93.3,327.3h.7v.7h-.7zM112.1,323.6h.7v.7h-.7zM106.8,326.3h.7v.7h-.7zM86.0,316.9h.7v.7h-.7zM113.6,307.5h.7v.7h-.7zM114.1,308.6h.7v.7h-.7zM109.6,314.2h.7v.7h-.7zM107.6,313.8h.7v.7h-.7zM107.4,303.4h.7v.7h-.7zM111.6,317.8h.7v.7h-.7zM116.5,308.0h.7v.7h-.7zM97.3,310.2h.7v.7h-.7zM111.6,286.3h.7v.7h-.7zM114.3,317.9h.7v.7h-.7z" fill="#6f7ddc" opacity="0.55"/>
<path d="M91.9,319.2L91.4,319.2L90.6,318.9L89.3,317.9L88.3,316.4L87.5,314.4L85.8,312.1L85.7,311.6L86.0,310.1L85.4,307.9L84.6,306.6L84.4,306.1L84.4,305.6L84.9,304.4L84.8,303.9L83.6,302.5L82.9,301.1L82.9,300.4L83.3,298.9L82.9,297.1L82.9,296.4L83.7,295.1L86.6,292.5L87.4,292.1L89.4,291.1L90.1,290.1L90.6,289.7L96.1,287.4L97.9,285.7L99.6,285.6L101.1,284.7L101.6,284.6L102.6,284.7L104.4,285.7L106.0,286.1L106.3,286.6L106.3,287.6L105.2,289.4L104.7,291.9L104.0,293.4L103.5,294.1L102.4,295.3L101.5,296.6L100.0,297.9L98.9,298.6L97.6,299.8L96.1,300.6L95.3,301.4L94.9,302.1L94.7,303.1L94.7,304.4L94.2,305.9L94.3,308.4L93.8,310.4L94.0,311.1L94.7,311.9L95.0,312.4L95.0,313.1L94.8,314.6L94.5,315.6L93.6,316.9L92.7,318.6L91.9,319.2ZM89.1,332.0L88.1,332.1L87.6,331.8L86.7,329.1L85.4,328.1L85.1,327.6L85.0,327.1L85.9,323.6L88.6,321.5L89.4,321.2L90.1,321.4L92.4,323.0L93.1,325.1L93.9,326.4L93.8,326.6L93.5,326.9L92.6,327.3L92.2,327.6L92.0,328.1L92.0,329.1L91.6,329.9L89.1,332.0ZM91.6,318.1L90.9,318.1L90.1,317.4L89.7,316.6L89.1,314.9L87.7,312.9L86.8,311.9L86.9,310.4L86.5,309.1L86.5,308.4L86.8,307.4L87.7,306.6L87.8,306.1L87.4,305.2L86.2,303.6L85.5,302.9L84.1,301.9L83.7,301.1L83.5,300.4L83.8,299.1L83.6,297.4L83.8,296.6L84.3,295.6L84.9,294.9L87.4,292.5L89.8,291.4L91.1,290.3L91.9,290.1L92.9,290.0L93.4,289.8L94.6,288.8L96.6,287.6L98.1,286.4L100.1,286.0L101.4,285.3L102.4,285.3L103.8,286.1L104.5,286.9L104.8,287.4L104.8,288.1L104.1,291.9L103.6,293.1L103.1,293.9L101.9,294.9L101.1,295.8L100.1,296.6L98.6,298.0L97.4,299.3L96.1,300.1L95.2,300.9L94.4,301.9L93.5,303.4L93.3,304.4L93.4,308.4L92.9,310.6L93.1,311.4L94.0,312.6L94.1,313.1L93.8,313.9L93.1,314.9L92.2,317.4L91.6,318.1ZM89.9,330.0L89.1,330.0L88.4,329.8L88.0,329.4L87.4,328.3L86.4,327.7L86.2,327.4L86.1,326.9L86.3,325.4L87.0,323.9L88.1,322.7L88.9,322.2L89.4,322.0L89.9,322.1L90.5,322.6L91.9,324.4L92.3,325.6L92.2,326.1L91.3,327.4L90.9,329.1L90.5,329.6L89.9,330.0ZM90.6,314.2L89.9,313.9L89.5,313.4L89.5,312.9L89.9,311.9L89.7,311.6L88.4,311.1L88.0,310.6L87.8,309.9L87.6,309.1L87.7,308.4L88.7,307.1L88.9,306.6L88.5,304.9L88.0,304.1L84.9,301.6L84.3,300.9L84.2,300.4L84.2,297.6L84.5,296.4L85.7,294.6L87.1,293.2L88.1,292.5L91.4,291.1L93.4,290.6L95.4,289.0L98.6,286.9L100.4,286.5L101.6,286.0L102.6,286.1L103.4,286.7L103.8,287.6L103.8,290.4L103.2,292.4L102.4,293.6L99.6,296.0L97.1,298.8L95.2,300.4L92.5,303.1L92.2,304.9L91.8,306.1L92.5,308.1L92.4,308.8L91.8,309.9L91.6,310.4L91.9,312.4L90.6,314.2ZM89.4,328.7L89.1,328.6L88.8,328.4L88.3,327.1L87.5,325.9L87.6,325.1L88.1,324.2L88.6,323.6L88.9,323.6L89.0,323.9L88.9,324.6L89.0,324.9L90.1,325.6L90.3,326.1L90.0,328.1L89.6,328.6L89.4,328.7ZM90.9,303.2L88.9,303.2L87.6,302.9L86.4,302.1L85.2,300.9L84.8,299.6L84.7,297.6L85.0,296.4L85.6,295.4L86.6,294.2L88.1,293.0L91.1,291.8L93.6,291.3L94.4,290.8L96.0,289.4L98.9,287.7L101.9,286.9L102.6,287.1L102.9,287.9L102.8,289.9L102.6,290.9L102.1,291.9L100.6,293.4L98.1,296.9L96.0,299.1L93.6,301.3L91.9,302.4L90.9,303.2ZM90.6,302.2L88.6,302.3L87.6,302.1L86.9,301.6L86.0,300.6L85.3,299.1L85.2,297.9L85.4,296.6L86.1,295.4L87.9,293.7L89.1,293.0L91.4,292.3L94.5,291.9L95.4,291.4L96.5,290.1L97.2,289.6L100.4,288.6L100.9,288.6L101.4,288.8L101.6,289.4L101.4,290.1L100.1,291.4L99.5,292.6L98.3,294.4L97.5,296.4L95.8,298.6L94.9,299.6L93.4,301.0L92.4,301.5L90.6,302.2Z" fill="none" stroke="#2020bc" stroke-width="0.62" stroke-linejoin="round"/>
<path d="M90.4,302.4L88.6,302.5L87.6,302.3L87.1,302.1L86.6,301.7L86.1,301.1L85.7,300.6L85.2,299.4L85.1,298.6L85.0,297.9L85.1,297.4L85.3,296.6L86.0,295.4L86.6,294.7L87.6,293.8L88.4,293.2L88.9,293.0L91.1,292.2L93.4,291.9L94.1,291.7L94.9,291.3L96.3,289.9L97.1,289.4L100.1,288.1L101.1,288.1L101.6,288.2L101.9,288.5L102.0,288.9L102.0,289.6L101.9,290.2L101.6,290.6L100.6,291.6L98.9,294.1L98.5,294.9L97.9,296.1L97.6,296.6L95.6,299.1L93.6,300.9L92.6,301.5L91.1,302.2L90.4,302.4Z" fill="#161ec8"/>
<path d="M90.4,301.4L89.1,301.5L88.1,301.3L87.4,300.9L86.7,300.1L86.4,299.6L86.1,298.9L85.9,297.9L86.1,296.9L86.5,295.9L87.2,295.1L88.6,294.0L89.6,293.5L90.9,293.1L91.9,292.9L93.6,293.0L95.1,293.3L95.9,293.6L96.2,293.9L96.4,294.4L96.4,295.6L96.0,296.9L95.2,298.4L94.3,299.4L93.1,300.4L91.6,301.0L90.4,301.4Z" fill="#1435f6"/>
<path d="M90.1,300.9L89.1,300.9L88.4,300.7L87.6,300.3L87.1,299.6L86.7,298.9L86.5,297.9L86.6,296.9L87.0,296.1L87.6,295.4L88.9,294.4L89.6,294.0L90.9,293.6L91.9,293.5L92.9,293.5L93.9,293.7L94.8,294.1L95.1,294.4L95.3,294.9L95.5,295.9L95.2,297.1L94.6,298.4L93.6,299.4L92.6,300.1L91.1,300.7L90.1,300.9Z" fill="#174dfb"/>
<path d="M90.6,300.5L89.6,300.6L88.9,300.5L88.1,300.1L87.7,299.6L87.2,298.9L87.0,298.1L87.0,297.4L87.2,296.6L87.7,295.9L88.4,295.2L89.1,294.6L89.9,294.3L90.9,294.0L91.9,293.9L92.9,294.0L93.6,294.3L94.4,294.8L94.6,295.1L94.8,295.6L94.8,296.6L94.5,297.6L93.9,298.6L93.1,299.3L92.1,299.9L90.6,300.5Z" fill="#1c6dfd"/>
<path d="M90.4,300.2L89.6,300.2L89.1,300.1L88.4,299.8L87.9,299.3L87.5,298.6L87.3,297.9L87.4,297.1L87.6,296.6L87.9,296.1L88.6,295.4L89.4,294.8L90.1,294.5L90.9,294.3L91.6,294.2L92.4,294.3L93.1,294.5L93.6,294.9L93.9,295.1L94.3,295.9L94.4,296.6L94.1,297.6L93.6,298.4L92.8,299.1L91.6,299.8L90.4,300.2Z" fill="#2aa5f5"/>
<path d="M90.1,299.9L89.4,299.9L88.9,299.7L88.4,299.4L88.0,298.9L87.8,298.4L87.7,297.9L87.7,297.1L87.9,296.6L88.3,296.1L88.9,295.5L89.4,295.1L90.1,294.8L90.9,294.6L91.6,294.5L92.4,294.6L92.9,294.9L93.5,295.4L93.9,296.1L94.0,296.9L93.7,297.6L93.2,298.4L92.4,299.1L91.1,299.7L90.1,299.9Z" fill="#41cdd4"/>
<path d="M89.9,299.7L89.4,299.6L88.9,299.4L88.6,299.1L88.2,298.6L88.0,298.1L88.0,297.6L88.1,297.1L88.3,296.6L88.6,296.1L89.2,295.6L89.6,295.3L90.4,295.0L91.1,294.8L91.6,294.8L92.1,294.9L92.6,295.1L93.2,295.6L93.6,296.4L93.5,297.1L93.2,297.9L92.6,298.5L91.9,299.0L90.9,299.5L89.9,299.7Z" fill="#69dc8a"/>
<path d="M90.9,299.2L89.9,299.4L89.4,299.3L88.9,299.0L88.6,298.6L88.4,298.3L88.3,297.9L88.3,297.4L88.5,296.9L88.8,296.4L89.6,295.6L90.6,295.2L91.6,295.1L92.4,295.4L92.9,295.8L93.2,296.4L93.2,296.9L93.0,297.6L92.6,298.1L91.9,298.7L90.9,299.2Z" fill="#aee148"/>
<path d="M90.9,298.9L90.4,299.1L89.9,299.1L89.4,298.9L89.1,298.8L88.9,298.6L88.7,298.1L88.6,297.4L88.8,296.9L89.1,296.4L89.9,295.7L90.8,295.4L91.6,295.4L92.2,295.6L92.7,296.1L92.9,296.6L92.8,297.1L92.6,297.6L92.2,298.1L91.6,298.6L90.9,298.9Z" fill="#f0ce1c"/>
<path d="M90.9,298.7L90.1,298.8L89.6,298.7L89.4,298.6L89.0,298.1L88.9,297.9L88.9,297.4L89.2,296.6L89.9,296.0L90.6,295.7L91.4,295.7L91.9,295.9L92.2,296.1L92.5,296.6L92.4,297.1L92.2,297.6L91.9,298.0L91.4,298.4L90.9,298.7Z" fill="#ff8d14"/>
<path d="M90.6,298.4L89.9,298.4L89.5,298.1L89.2,297.6L89.3,297.1L89.6,296.6L90.1,296.2L90.9,296.0L91.4,296.0L91.7,296.1L91.9,296.4L92.0,296.6L92.0,297.1L91.9,297.5L91.6,297.9L91.1,298.2L90.6,298.4Z" fill="#e92610"/>
<path d="M90.9,298.0L90.4,298.1L89.9,298.0L89.7,297.6L89.6,297.4L89.9,296.9L90.1,296.6L90.4,296.5L90.9,296.4L91.1,296.4L91.4,296.6L91.6,296.9L91.5,297.4L91.3,297.6L90.9,298.0Z" fill="#d70a0a"/>
</g>
<rect x="84.9" y="282.6" width="20.5" height="21.599999999999966" fill="none" stroke="#7070f4" stroke-width="1.15"/>
<rect x="105.1" y="304.6" width="26.5" height="30.0" fill="none" stroke="#ec7e86" stroke-width="1.15"/>
<line x1="81.8" y1="277.4" x2="81.8" y2="335.4" stroke="#1c2870" stroke-width="1.0"/>
<line x1="81.3" y1="334.9" x2="137.0" y2="334.9" stroke="#1c2870" stroke-width="1.0"/>
<path d="M85.8,335.4v1.4M81.3,330.9h-1.4M89.7,335.4v1.4M81.3,327.0h-1.4M92.0,335.4v1.4M81.3,324.7h-1.4M93.6,335.4v1.4M81.3,323.1h-1.4M94.9,335.4v1.4M81.3,321.8h-1.4M95.9,335.4v1.4M81.3,320.8h-1.4M96.8,335.4v1.4M81.3,319.9h-1.4M97.5,335.4v1.4M81.3,319.2h-1.4M98.2,335.4v1.4M81.3,318.5h-1.4M98.8,335.4v1.4M81.3,317.9h-1.4M102.7,335.4v1.4M81.3,314.0h-1.4M105.0,335.4v1.4M81.3,311.7h-1.4M106.6,335.4v1.4M81.3,310.1h-1.4M107.9,335.4v1.4M81.3,308.8h-1.4M108.9,335.4v1.4M81.3,307.8h-1.4M109.8,335.4v1.4M81.3,306.9h-1.4M110.5,335.4v1.4M81.3,306.2h-1.4M111.2,335.4v1.4M81.3,305.5h-1.4M111.8,335.4v1.4M81.3,304.9h-1.4M115.7,335.4v1.4M81.3,301.0h-1.4M118.0,335.4v1.4M81.3,298.7h-1.4M119.6,335.4v1.4M81.3,297.1h-1.4M120.9,335.4v1.4M81.3,295.8h-1.4M121.9,335.4v1.4M81.3,294.8h-1.4M122.8,335.4v1.4M81.3,293.9h-1.4M123.5,335.4v1.4M81.3,293.2h-1.4M124.2,335.4v1.4M81.3,292.5h-1.4M124.8,335.4v1.4M81.3,291.9h-1.4M128.7,335.4v1.4M81.3,288.0h-1.4M131.0,335.4v1.4M81.3,285.7h-1.4M132.6,335.4v1.4M81.3,284.1h-1.4M133.9,335.4v1.4M81.3,282.8h-1.4M134.9,335.4v1.4M81.3,281.8h-1.4M135.8,335.4v1.4M81.3,280.9h-1.4M81.3,280.2h-1.4M81.3,279.5h-1.4M81.3,278.9h-1.4" stroke="#4a58a0" stroke-width="0.5" fill="none"/>
<text x="0" y="0" transform="translate(85.8,280.0) scale(0.93,1)" font-size="8.4" text-anchor="start" font-weight="normal" fill="#222" stroke="#222" stroke-width="0.15">83.52%</text>
<text x="0" y="0" transform="translate(108.6,301.8) scale(0.93,1)" font-size="8.4" text-anchor="start" font-weight="normal" fill="#222" stroke="#222" stroke-width="0.15">2.25%</text>
<clipPath id="cp4"><rect x="150.2" y="277.4" width="55.80000000000001" height="57.19999999999999"/></clipPath>
<g clip-path="url(#cp4)">
<path d="M166.9,317.5h.7v.7h-.7zM168.4,322.3h.7v.7h-.7zM172.1,318.9h.7v.7h-.7zM169.5,313.7h.7v.7h-.7zM159.6,308.0h.7v.7h-.7zM184.9,315.2h.7v.7h-.7zM173.8,304.3h.7v.7h-.7zM175.4,307.8h.7v.7h-.7zM177.7,297.1h.7v.7h-.7zM187.4,330.9h.7v.7h-.7zM151.6,295.4h.7v.7h-.7zM183.5,304.9h.7v.7h-.7zM169.1,312.7h.7v.7h-.7zM152.5,311.0h.7v.7h-.7zM180.8,307.6h.7v.7h-.7zM178.3,308.7h.7v.7h-.7zM172.3,313.3h.7v.7h-.7zM180.6,315.0h.7v.7h-.7zM163.8,309.3h.7v.7h-.7zM174.1,296.5h.7v.7h-.7zM169.7,320.0h.7v.7h-.7zM183.2,330.2h.7v.7h-.7zM185.6,304.6h.7v.7h-.7zM169.3,295.8h.7v.7h-.7zM185.0,305.5h.7v.7h-.7zM174.4,316.8h.7v.7h-.7zM172.5,306.8h.7v.7h-.7zM166.0,319.1h.7v.7h-.7zM158.4,317.5h.7v.7h-.7zM153.3,303.1h.7v.7h-.7z" fill="#6f7ddc" opacity="0.55"/>
<path d="M163.7,301.7L162.7,301.9L160.7,301.7L154.2,300.3L153.2,299.5L152.0,298.1L151.8,297.4L152.1,296.4L153.3,294.9L154.4,294.0L155.4,293.7L157.2,293.5L159.7,292.5L162.4,292.1L162.9,291.8L163.6,290.6L164.2,290.0L164.9,289.7L165.9,289.7L166.7,290.3L167.1,291.1L167.1,291.9L166.8,293.4L167.9,295.9L168.0,296.9L167.9,298.1L167.5,299.1L166.9,299.8L165.2,301.0L163.7,301.7ZM163.4,301.2L162.2,301.3L160.7,301.2L154.7,299.8L153.8,299.1L153.0,298.1L152.8,297.4L152.9,296.6L153.7,295.4L154.7,294.6L157.2,294.0L159.9,293.0L163.2,292.6L163.7,292.2L164.0,291.1L164.4,290.6L164.9,290.3L165.7,290.4L166.3,290.9L166.5,291.6L166.2,292.4L165.4,293.1L165.3,293.4L166.6,294.9L167.1,295.6L167.3,296.6L167.3,297.9L166.9,298.9L165.9,299.8L164.7,300.7L163.4,301.2Z" fill="none" stroke="#2020bc" stroke-width="0.62" stroke-linejoin="round"/>
<path d="M165.4,292.0L165.2,292.1L164.9,292.1L164.7,291.9L164.6,291.6L164.7,291.4L164.9,291.1L165.2,291.0L165.4,291.0L165.7,291.3L165.7,291.6L165.4,292.0ZM162.4,300.9L161.2,300.9L160.2,300.8L157.2,300.0L155.4,299.5L154.7,299.2L154.2,298.8L153.9,298.4L153.5,297.6L153.5,296.9L153.7,296.1L154.3,295.4L154.9,294.9L157.1,294.4L159.2,293.5L159.9,293.3L161.2,293.1L162.4,293.1L163.7,293.2L164.2,293.4L165.7,294.6L166.4,295.4L166.6,295.9L166.8,296.6L166.9,297.4L166.8,297.9L166.6,298.4L166.3,298.9L165.7,299.5L164.9,300.1L163.7,300.7L162.4,300.9Z" fill="#161ec8"/>
<path d="M162.9,300.2L161.7,300.3L160.7,300.3L157.4,299.3L156.4,299.0L155.4,298.4L154.9,297.9L154.7,297.4L154.8,296.6L155.1,296.1L155.7,295.7L159.7,294.0L160.7,293.8L161.7,293.7L162.7,293.8L163.4,294.0L164.4,294.6L165.4,295.4L165.7,295.9L165.9,296.4L166.0,296.9L166.0,297.4L165.9,297.9L165.7,298.4L164.9,299.2L164.2,299.7L162.9,300.2Z" fill="#1435f6"/>
<path d="M161.9,299.9L161.2,299.9L160.4,299.8L156.9,298.6L156.3,298.1L155.9,297.6L155.7,297.1L155.9,296.6L156.3,296.1L156.9,295.8L159.2,294.6L160.4,294.2L161.4,294.1L162.2,294.2L162.9,294.3L163.9,294.7L164.8,295.4L165.3,296.1L165.5,296.6L165.5,297.1L165.4,297.9L164.9,298.6L164.2,299.2L163.2,299.7L161.9,299.9Z" fill="#174dfb"/>
<path d="M162.9,299.4L161.9,299.6L160.9,299.6L159.9,299.3L157.9,298.6L157.2,298.2L156.8,297.9L156.6,297.4L156.6,296.9L156.9,296.4L157.3,296.1L158.9,295.1L159.9,294.7L160.7,294.5L161.7,294.4L162.4,294.5L163.2,294.7L163.9,295.1L164.6,295.6L165.0,296.4L165.1,297.1L164.9,297.9L164.4,298.6L163.9,299.0L162.9,299.4Z" fill="#1c6dfd"/>
<path d="M162.7,299.2L161.9,299.4L161.2,299.3L160.4,299.2L159.4,298.8L157.6,297.9L157.4,297.6L157.2,297.4L157.3,296.9L157.7,296.4L158.4,295.9L159.4,295.2L160.2,294.9L160.9,294.7L161.7,294.7L162.4,294.8L163.2,295.1L163.9,295.5L164.4,295.9L164.7,296.4L164.8,297.1L164.6,297.9L164.2,298.4L163.6,298.9L162.7,299.2Z" fill="#2aa5f5"/>
<path d="M162.9,298.9L162.2,299.1L161.4,299.1L160.9,299.1L160.2,298.8L158.8,298.1L158.1,297.6L158.0,297.4L157.9,297.1L158.0,296.9L158.4,296.4L159.2,295.7L159.7,295.4L160.4,295.1L160.9,295.0L161.7,294.9L162.9,295.2L163.7,295.6L164.2,296.1L164.4,296.6L164.5,297.1L164.4,297.6L164.1,298.1L163.7,298.5L162.9,298.9Z" fill="#41cdd4"/>
<path d="M161.9,298.9L161.4,298.9L160.7,298.8L159.8,298.4L159.1,297.9L158.6,297.4L158.6,297.1L158.6,296.9L158.9,296.4L159.4,295.9L159.9,295.6L160.4,295.3L161.2,295.2L161.7,295.2L162.4,295.3L163.2,295.6L163.7,295.9L164.1,296.4L164.2,296.9L164.2,297.4L164.0,297.9L163.7,298.2L163.2,298.6L162.7,298.8L161.9,298.9Z" fill="#69dc8a"/>
<path d="M162.2,298.7L161.4,298.7L160.9,298.6L160.2,298.3L159.6,297.9L159.3,297.6L159.1,297.1L159.1,296.9L159.4,296.4L159.7,296.1L160.2,295.7L161.2,295.4L161.7,295.4L162.4,295.5L162.9,295.7L163.4,296.1L163.8,296.4L163.9,296.9L163.9,297.4L163.8,297.6L163.7,297.9L163.2,298.3L162.7,298.5L162.2,298.7Z" fill="#aee148"/>
<path d="M162.4,298.4L161.7,298.5L161.2,298.5L160.4,298.2L160.0,297.9L159.7,297.6L159.5,297.1L159.5,296.9L159.8,296.4L160.4,295.9L160.9,295.7L161.4,295.6L162.4,295.8L163.2,296.1L163.6,296.6L163.7,296.9L163.6,297.4L163.5,297.6L163.2,298.0L162.4,298.4Z" fill="#f0ce1c"/>
<path d="M162.4,298.2L161.9,298.3L161.4,298.3L160.9,298.2L160.5,297.9L160.0,297.4L159.9,297.1L160.0,296.6L160.5,296.1L161.2,295.9L161.9,295.9L162.7,296.1L163.3,296.6L163.4,297.1L163.2,297.7L162.9,297.9L162.4,298.2Z" fill="#ff8d14"/>
<path d="M162.4,297.9L161.9,298.0L161.4,298.0L160.7,297.7L160.4,297.4L160.3,297.1L160.4,296.6L160.9,296.2L161.4,296.1L162.0,296.1L162.6,296.4L162.9,296.8L163.1,297.1L163.0,297.4L162.8,297.6L162.4,297.9Z" fill="#e92610"/>
<path d="M162.2,297.7L161.7,297.8L161.2,297.6L160.9,297.4L160.7,297.1L160.8,296.9L160.9,296.6L161.4,296.4L161.7,296.4L162.2,296.6L162.6,296.9L162.7,297.1L162.6,297.4L162.2,297.7Z" fill="#d70a0a"/>
</g>
<rect x="150.3" y="282.4" width="19.299999999999983" height="21.400000000000034" fill="none" stroke="#7070f4" stroke-width="1.15"/>
<rect x="169.6" y="303.8" width="32.099999999999994" height="31.19999999999999" fill="none" stroke="#ec7e86" stroke-width="1.15"/>
<line x1="149.6" y1="277.4" x2="149.6" y2="335.7" stroke="#1c2870" stroke-width="1.0"/>
<line x1="149.1" y1="335.2" x2="206.0" y2="335.2" stroke="#1c2870" stroke-width="1.0"/>
<path d="M153.6,335.7v1.4M149.1,331.2h-1.4M157.5,335.7v1.4M149.1,327.3h-1.4M159.8,335.7v1.4M149.1,325.0h-1.4M161.4,335.7v1.4M149.1,323.4h-1.4M162.7,335.7v1.4M149.1,322.1h-1.4M163.7,335.7v1.4M149.1,321.1h-1.4M164.6,335.7v1.4M149.1,320.2h-1.4M165.3,335.7v1.4M149.1,319.5h-1.4M166.0,335.7v1.4M149.1,318.8h-1.4M166.6,335.7v1.4M149.1,318.2h-1.4M170.5,335.7v1.4M149.1,314.3h-1.4M172.8,335.7v1.4M149.1,312.0h-1.4M174.4,335.7v1.4M149.1,310.4h-1.4M175.7,335.7v1.4M149.1,309.1h-1.4M176.7,335.7v1.4M149.1,308.1h-1.4M177.6,335.7v1.4M149.1,307.2h-1.4M178.3,335.7v1.4M149.1,306.5h-1.4M179.0,335.7v1.4M149.1,305.8h-1.4M179.6,335.7v1.4M149.1,305.2h-1.4M183.5,335.7v1.4M149.1,301.3h-1.4M185.8,335.7v1.4M149.1,299.0h-1.4M187.4,335.7v1.4M149.1,297.4h-1.4M188.7,335.7v1.4M149.1,296.1h-1.4M189.7,335.7v1.4M149.1,295.1h-1.4M190.6,335.7v1.4M149.1,294.2h-1.4M191.3,335.7v1.4M149.1,293.5h-1.4M192.0,335.7v1.4M149.1,292.8h-1.4M192.6,335.7v1.4M149.1,292.2h-1.4M196.5,335.7v1.4M149.1,288.3h-1.4M198.8,335.7v1.4M149.1,286.0h-1.4M200.4,335.7v1.4M149.1,284.4h-1.4M201.7,335.7v1.4M149.1,283.1h-1.4M202.7,335.7v1.4M149.1,282.1h-1.4M203.6,335.7v1.4M149.1,281.2h-1.4M204.3,335.7v1.4M149.1,280.5h-1.4M149.1,279.8h-1.4M149.1,279.2h-1.4" stroke="#4a58a0" stroke-width="0.5" fill="none"/>
<text x="0" y="0" transform="translate(152.9,279.6) scale(0.93,1)" font-size="8.4" text-anchor="start" font-weight="normal" fill="#222" stroke="#222" stroke-width="0.15">96.19%</text>
<text x="0" y="0" transform="translate(173.7,301.4) scale(0.93,1)" font-size="8.4" text-anchor="start" font-weight="normal" fill="#222" stroke="#222" stroke-width="0.15">0.52%</text>
<clipPath id="cp5"><rect x="219.29999999999998" y="277.4" width="54.20000000000002" height="57.30000000000001"/></clipPath>
<g clip-path="url(#cp5)">
<path d="M245.9,299.9h.7v.7h-.7zM230.0,279.9h.7v.7h-.7zM227.9,334.8h.7v.7h-.7zM256.6,327.6h.7v.7h-.7zM244.5,306.2h.7v.7h-.7zM252.2,315.0h.7v.7h-.7zM247.5,305.2h.7v.7h-.7zM247.9,329.4h.7v.7h-.7zM265.9,286.1h.7v.7h-.7zM239.2,301.0h.7v.7h-.7zM260.1,301.7h.7v.7h-.7zM246.0,330.3h.7v.7h-.7zM219.1,312.5h.7v.7h-.7zM247.3,309.0h.7v.7h-.7zM225.7,316.9h.7v.7h-.7zM261.8,299.3h.7v.7h-.7zM251.6,322.3h.7v.7h-.7zM220.4,310.6h.7v.7h-.7zM247.3,284.8h.7v.7h-.7zM254.8,295.9h.7v.7h-.7zM230.0,315.8h.7v.7h-.7zM242.1,300.5h.7v.7h-.7zM251.0,295.5h.7v.7h-.7zM223.9,318.3h.7v.7h-.7zM257.1,292.7h.7v.7h-.7zM247.5,312.7h.7v.7h-.7zM240.7,310.5h.7v.7h-.7zM243.0,311.9h.7v.7h-.7zM226.9,312.9h.7v.7h-.7zM264.1,323.4h.7v.7h-.7zM247.3,303.7h.7v.7h-.7zM241.6,282.9h.7v.7h-.7zM251.5,311.1h.7v.7h-.7zM241.1,320.6h.7v.7h-.7zM219.9,322.4h.7v.7h-.7zM241.2,331.0h.7v.7h-.7zM218.1,276.1h.7v.7h-.7zM255.4,302.5h.7v.7h-.7zM259.4,320.8h.7v.7h-.7zM259.3,305.8h.7v.7h-.7zM223.3,308.3h.7v.7h-.7zM254.2,329.1h.7v.7h-.7zM247.9,304.0h.7v.7h-.7zM246.7,313.3h.7v.7h-.7zM247.8,294.9h.7v.7h-.7zM247.0,294.8h.7v.7h-.7zM219.3,289.1h.7v.7h-.7zM225.9,308.2h.7v.7h-.7zM223.4,315.3h.7v.7h-.7zM238.1,285.3h.7v.7h-.7zM228.1,332.7h.7v.7h-.7zM244.9,284.7h.7v.7h-.7zM260.9,284.6h.7v.7h-.7zM255.5,314.3h.7v.7h-.7zM263.3,312.1h.7v.7h-.7zM253.7,315.9h.7v.7h-.7zM226.3,275.2h.7v.7h-.7zM250.5,315.2h.7v.7h-.7zM231.1,281.6h.7v.7h-.7zM237.2,306.0h.7v.7h-.7zM250.2,298.3h.7v.7h-.7zM255.1,295.6h.7v.7h-.7zM244.0,314.9h.7v.7h-.7zM245.9,309.5h.7v.7h-.7zM242.3,311.4h.7v.7h-.7zM217.9,296.6h.7v.7h-.7zM252.4,305.6h.7v.7h-.7zM253.5,286.5h.7v.7h-.7zM228.2,315.3h.7v.7h-.7zM240.8,280.1h.7v.7h-.7zM243.5,303.7h.7v.7h-.7zM258.6,308.1h.7v.7h-.7zM252.5,304.7h.7v.7h-.7zM243.0,322.2h.7v.7h-.7zM244.3,311.3h.7v.7h-.7zM239.8,305.5h.7v.7h-.7zM243.9,306.0h.7v.7h-.7zM241.6,310.9h.7v.7h-.7zM257.5,310.1h.7v.7h-.7zM257.3,292.8h.7v.7h-.7zM232.5,287.3h.7v.7h-.7zM252.2,316.2h.7v.7h-.7zM220.9,295.2h.7v.7h-.7zM241.2,309.3h.7v.7h-.7zM253.1,300.2h.7v.7h-.7zM231.8,283.7h.7v.7h-.7zM221.5,310.2h.7v.7h-.7zM247.6,300.6h.7v.7h-.7zM223.7,280.9h.7v.7h-.7zM223.1,310.3h.7v.7h-.7zM243.1,320.6h.7v.7h-.7zM244.9,310.5h.7v.7h-.7zM217.7,308.4h.7v.7h-.7zM251.2,317.8h.7v.7h-.7zM219.2,296.6h.7v.7h-.7zM233.7,289.6h.7v.7h-.7zM249.1,313.9h.7v.7h-.7zM250.4,302.5h.7v.7h-.7zM231.1,291.0h.7v.7h-.7zM241.1,319.6h.7v.7h-.7zM223.4,312.7h.7v.7h-.7zM264.4,309.9h.7v.7h-.7zM247.7,294.3h.7v.7h-.7zM250.9,303.4h.7v.7h-.7zM228.5,317.8h.7v.7h-.7zM245.4,323.8h.7v.7h-.7zM264.2,300.6h.7v.7h-.7zM251.0,305.8h.7v.7h-.7zM231.3,290.7h.7v.7h-.7zM239.9,300.5h.7v.7h-.7zM259.9,288.6h.7v.7h-.7zM221.3,303.5h.7v.7h-.7zM256.2,302.7h.7v.7h-.7zM248.9,297.5h.7v.7h-.7zM235.6,327.3h.7v.7h-.7zM244.5,301.8h.7v.7h-.7zM243.7,323.1h.7v.7h-.7zM238.7,304.9h.7v.7h-.7zM242.1,317.8h.7v.7h-.7zM239.9,304.1h.7v.7h-.7z" fill="#6f7ddc" opacity="0.55"/>
<path d="M225.8,332.2L222.3,332.4L221.5,332.1L220.8,331.4L220.2,330.6L220.0,330.1L220.2,329.4L220.8,328.1L220.6,326.6L221.0,325.9L221.8,325.0L223.3,324.2L224.3,323.4L225.5,322.6L225.8,322.1L225.8,320.6L225.9,320.1L226.3,319.6L227.3,318.9L228.1,317.6L229.3,316.4L229.8,314.9L229.8,314.4L226.8,313.3L226.3,312.9L226.1,312.1L226.3,309.6L226.1,308.9L224.8,307.7L223.6,305.4L222.2,304.1L221.6,303.4L220.2,300.4L220.2,299.6L220.5,298.1L220.3,296.6L220.5,295.9L221.3,294.8L223.0,293.5L224.3,292.3L227.8,290.6L228.5,290.6L229.8,291.1L231.0,290.7L231.8,290.7L233.5,291.5L233.8,291.3L234.4,289.6L235.0,289.2L237.5,289.2L239.1,289.6L239.8,289.7L242.5,288.0L244.0,287.8L245.0,287.4L245.5,287.4L246.0,287.9L246.8,289.3L248.0,290.1L248.6,290.6L248.9,291.9L248.8,292.9L248.6,293.4L247.4,294.9L247.1,295.1L246.3,295.3L245.0,295.2L244.5,295.4L243.0,298.1L242.0,298.9L241.3,299.1L240.8,298.6L240.3,297.6L240.0,297.6L239.8,297.8L239.3,298.4L238.8,299.8L237.5,300.5L237.1,300.9L237.2,302.1L237.0,302.6L235.5,304.4L235.5,304.9L235.7,305.1L237.3,306.3L238.4,307.4L238.6,307.9L238.6,309.1L239.3,310.6L239.5,311.4L239.4,312.4L238.8,313.9L239.3,315.1L239.3,315.6L238.4,317.1L238.1,318.4L237.0,321.6L235.8,323.4L235.3,324.9L235.0,325.4L234.3,325.8L232.4,326.1L232.0,326.4L231.8,326.9L231.8,328.6L231.5,329.2L231.0,329.5L229.8,329.7L228.3,330.4L227.5,330.9L226.8,331.8L225.8,332.2ZM224.8,331.7L223.3,331.8L222.3,331.7L221.5,331.1L220.8,330.4L220.7,329.9L220.8,329.4L221.8,327.6L221.8,326.1L222.0,325.6L222.5,325.2L223.9,324.6L226.0,323.3L226.3,322.9L226.6,321.1L226.9,320.4L228.0,319.4L228.8,318.1L229.8,317.5L230.1,317.1L230.2,315.9L230.8,314.1L230.8,313.4L230.5,313.1L229.5,313.3L229.0,313.2L228.0,312.4L227.6,311.6L227.1,308.6L226.9,308.1L225.8,307.5L225.3,307.1L224.2,305.4L221.7,302.4L220.9,300.6L220.7,299.9L221.0,298.1L220.8,296.6L221.0,295.9L221.5,295.3L224.5,292.7L227.8,291.4L228.3,291.3L229.8,291.7L231.0,291.2L231.8,291.2L232.3,291.4L233.3,292.3L234.0,292.4L234.5,292.0L235.0,290.4L235.5,290.0L237.3,289.7L239.8,290.3L240.3,290.2L242.8,288.5L244.5,288.5L245.3,288.7L246.3,289.7L247.7,290.4L248.2,290.9L248.3,291.9L248.0,292.9L247.3,293.6L246.5,294.2L244.0,294.7L243.0,296.1L242.5,296.5L241.8,296.8L240.0,296.5L238.6,297.4L238.2,297.9L237.7,299.1L236.5,300.4L236.2,301.1L236.1,302.6L235.0,304.1L234.8,304.6L234.9,305.1L235.0,305.5L236.8,306.5L237.7,307.4L237.9,307.9L238.0,309.4L238.9,310.9L239.1,311.6L239.0,312.4L238.4,313.9L238.7,315.6L238.0,316.9L236.6,321.1L235.5,322.9L234.7,324.4L234.3,324.9L233.5,325.2L231.5,325.6L231.0,325.9L230.8,326.4L230.9,327.9L230.5,328.6L227.5,330.2L226.3,331.3L224.8,331.7ZM224.0,331.2L223.0,331.3L222.0,330.9L221.4,330.1L221.4,329.4L222.8,327.4L222.8,326.1L223.3,325.8L225.0,325.3L226.3,324.5L226.8,323.6L227.4,321.6L227.8,320.9L229.4,318.6L230.6,317.6L230.7,317.1L230.8,315.6L231.7,311.9L231.5,311.4L231.3,311.3L231.0,311.4L229.8,312.3L229.2,312.1L228.9,311.6L228.1,309.4L228.0,308.6L228.1,307.6L227.8,307.4L226.3,307.0L225.8,306.7L222.0,302.1L221.3,300.6L221.2,299.9L221.5,298.1L221.5,296.6L221.6,296.1L222.2,295.4L224.3,293.4L224.8,293.0L225.5,292.7L228.0,292.0L229.8,292.1L231.0,291.7L231.5,291.6L232.0,291.8L233.3,292.9L234.3,293.2L234.8,292.9L235.0,292.6L235.8,290.9L236.5,290.5L237.5,290.4L239.5,291.1L240.0,291.2L240.5,291.0L243.0,289.2L244.0,289.2L245.0,289.5L245.8,290.1L247.5,291.0L247.8,291.6L247.5,292.6L247.0,293.1L246.3,293.5L244.3,293.8L243.8,294.1L242.5,295.6L242.0,295.9L241.3,296.0L239.8,295.8L238.5,296.4L237.3,296.3L237.0,296.4L236.4,297.4L236.3,297.9L236.5,298.6L236.5,299.1L235.8,300.6L235.4,302.6L233.8,305.4L232.5,306.2L232.0,306.9L232.0,307.4L232.2,307.6L232.8,307.9L233.3,307.8L234.5,306.8L235.0,306.5L235.8,306.5L236.5,306.8L237.2,307.6L237.5,309.4L238.5,311.4L238.5,312.1L238.0,313.6L238.1,315.6L236.4,320.6L234.5,323.6L233.5,324.5L232.5,324.9L230.8,325.1L230.0,325.0L229.5,324.6L229.3,324.6L229.0,324.8L228.9,325.1L229.7,325.9L230.1,326.9L230.1,327.6L229.8,328.1L227.3,329.7L226.0,330.7L224.0,331.2ZM246.3,292.7L245.5,292.8L245.1,292.6L244.8,292.4L244.6,291.4L244.8,291.0L246.3,291.1L246.9,291.4L247.0,291.6L247.0,292.1L246.3,292.7ZM230.5,307.0L230.0,307.0L228.8,306.7L227.0,306.6L226.3,306.3L224.3,304.4L222.6,302.1L221.9,300.9L221.7,299.9L222.4,296.1L222.9,295.4L223.8,294.5L224.8,293.6L225.5,293.2L228.0,292.6L229.8,292.5L231.3,292.2L232.0,292.4L233.8,293.8L234.8,294.0L235.4,293.6L236.0,292.1L236.3,291.6L237.0,291.3L237.8,291.5L238.5,291.9L238.8,292.4L239.1,293.9L239.1,294.4L238.7,294.9L238.3,295.1L236.8,294.8L236.1,295.1L235.4,297.4L235.6,299.4L235.1,301.6L234.7,302.9L233.3,304.8L230.5,307.0ZM241.8,295.2L241.3,295.4L240.5,295.1L239.9,294.4L239.8,293.9L240.2,293.1L241.0,292.1L241.8,291.6L242.3,291.6L242.5,291.7L243.0,292.1L243.2,292.6L243.2,293.1L242.4,294.6L241.8,295.2ZM232.5,324.2L231.8,324.3L231.2,324.1L230.9,323.9L230.5,322.9L230.0,322.6L229.5,322.6L228.5,323.0L228.4,322.9L228.4,322.1L228.6,321.4L229.4,320.4L230.0,319.1L231.1,317.6L231.2,315.6L232.3,311.4L232.2,310.4L231.8,309.7L231.5,309.7L230.3,310.8L229.8,310.8L229.3,310.1L229.2,309.1L229.5,308.7L230.0,308.6L231.5,309.6L231.8,309.6L233.3,308.9L234.8,307.5L235.3,307.3L235.8,307.2L236.4,307.4L236.7,307.9L237.0,309.4L238.0,311.4L238.0,312.1L237.7,313.6L237.7,315.4L237.0,317.9L235.8,320.9L234.0,323.3L233.3,323.8L232.5,324.2ZM224.3,330.4L223.3,330.5L222.8,330.4L222.4,330.1L222.2,329.6L222.5,329.0L224.1,327.9L224.6,326.9L225.0,326.4L226.0,325.8L227.0,325.5L228.5,326.3L229.1,326.6L229.3,327.4L228.9,327.9L225.8,330.1L224.3,330.4Z" fill="none" stroke="#2020bc" stroke-width="0.62" stroke-linejoin="round"/>
<path d="M228.5,306.2L227.5,306.2L226.8,306.0L226.0,305.5L224.6,304.1L222.9,301.9L222.6,301.4L222.2,300.1L222.2,299.1L222.9,296.6L223.2,295.9L223.8,295.1L225.0,294.0L226.0,293.6L228.3,293.0L229.8,293.0L231.3,292.8L231.7,292.9L232.0,293.2L234.4,295.1L234.8,295.6L234.9,296.1L234.8,297.6L235.0,299.1L234.8,300.9L234.6,301.9L234.2,302.9L233.5,303.8L232.8,304.5L231.5,305.5L230.8,306.0L230.3,306.1L228.5,306.2ZM233.0,323.2L232.3,323.4L231.8,323.2L231.5,322.9L230.7,321.6L230.5,321.1L230.4,320.6L230.5,319.9L230.6,319.4L231.3,318.1L231.5,317.6L231.6,315.6L231.8,314.6L233.2,310.4L233.6,309.6L234.5,308.6L235.3,308.1L235.8,308.1L236.0,308.3L236.4,309.4L237.2,310.6L237.5,311.4L237.5,311.9L237.3,313.4L237.3,314.9L237.3,315.4L236.7,317.6L235.7,320.4L235.1,321.4L234.3,322.3L233.8,322.8L233.0,323.2ZM225.5,329.2L225.0,329.2L224.9,329.1L224.9,328.9L225.7,328.1L226.2,327.1L226.5,326.9L227.0,327.0L227.2,327.1L227.2,327.4L225.5,329.2Z" fill="#161ec8"/>
<path d="M229.8,304.9L228.8,305.1L228.0,305.1L227.3,304.9L226.5,304.5L225.8,303.9L225.0,303.1L224.0,301.6L223.5,300.6L223.4,299.9L223.5,299.1L224.0,297.4L224.4,296.4L224.8,295.6L225.5,295.0L226.0,294.6L226.8,294.4L227.8,294.2L228.8,294.1L230.0,294.2L230.8,294.4L231.5,294.8L232.6,295.6L233.3,296.6L233.7,297.4L233.9,298.6L234.0,299.6L233.7,301.1L233.4,302.1L232.8,302.9L231.1,304.4L230.5,304.7L229.8,304.9ZM233.3,321.2L232.8,321.1L232.5,320.9L232.3,320.6L232.2,320.1L232.2,319.4L232.4,318.1L232.5,316.4L232.6,315.4L233.0,314.1L234.0,311.8L234.3,311.4L234.7,310.9L235.0,310.7L235.3,310.7L235.8,310.9L236.0,311.2L236.2,311.6L236.5,313.9L236.4,314.9L235.9,317.4L235.0,319.6L234.5,320.3L234.0,320.8L233.8,321.0L233.3,321.2Z" fill="#1435f6"/>
<path d="M229.5,304.2L228.8,304.3L228.0,304.3L227.3,304.0L226.5,303.6L225.8,303.0L225.1,302.1L224.6,301.4L224.3,300.6L224.2,299.9L224.3,299.1L224.6,297.6L224.9,296.9L225.3,296.1L225.8,295.6L226.3,295.2L227.0,294.9L228.0,294.7L229.0,294.7L230.0,294.9L230.8,295.2L231.6,295.6L232.3,296.4L232.8,297.1L233.1,297.9L233.3,298.9L233.3,299.6L233.0,301.1L232.7,301.9L232.1,302.6L230.8,303.6L230.3,303.9L229.5,304.2ZM234.0,318.5L233.8,318.4L233.5,318.1L233.3,317.5L233.1,316.6L233.2,315.9L233.5,314.9L234.0,313.8L234.5,313.0L234.8,312.8L235.0,312.7L235.3,312.9L235.5,313.2L235.8,313.9L235.8,314.4L235.0,317.3L234.5,318.1L234.3,318.3L234.0,318.5Z" fill="#174dfb"/>
<path d="M229.8,303.4L229.0,303.6L228.3,303.6L227.8,303.5L227.0,303.2L226.3,302.7L225.8,302.3L225.3,301.6L224.9,300.9L224.8,300.4L224.8,299.6L224.9,298.4L225.2,297.4L225.5,296.7L226.0,296.1L226.5,295.7L227.0,295.4L227.8,295.3L229.0,295.2L229.8,295.3L230.5,295.6L231.1,295.9L231.7,296.4L232.2,297.1L232.6,297.9L232.8,298.6L232.8,299.4L232.5,300.9L232.2,301.6L231.9,302.1L231.5,302.4L230.5,303.1L229.8,303.4Z" fill="#1c6dfd"/>
<path d="M229.5,303.0L229.0,303.0L228.3,303.0L227.5,302.9L227.0,302.7L226.3,302.2L225.8,301.6L225.5,301.1L225.3,300.6L225.2,300.1L225.2,299.4L225.4,298.1L225.6,297.4L225.9,296.9L226.3,296.4L226.8,296.0L227.3,295.8L228.0,295.7L229.0,295.6L229.8,295.8L230.3,295.9L230.8,296.2L231.3,296.7L231.8,297.4L232.2,298.1L232.3,298.6L232.4,299.4L232.1,300.4L231.8,301.4L231.5,301.9L231.0,302.2L230.3,302.7L229.5,303.0Z" fill="#2aa5f5"/>
<path d="M229.8,302.4L229.3,302.6L228.5,302.6L228.0,302.5L227.3,302.3L226.3,301.6L225.9,301.1L225.6,300.6L225.5,300.1L225.5,299.4L225.8,297.9L226.1,297.4L226.4,296.9L226.8,296.6L227.3,296.3L228.0,296.1L228.8,296.0L229.5,296.1L230.0,296.3L230.5,296.6L231.0,297.1L231.5,297.6L231.8,298.3L232.0,298.9L232.0,299.4L231.8,300.1L231.5,301.1L231.1,301.6L230.8,301.9L229.8,302.4Z" fill="#41cdd4"/>
<path d="M229.3,302.2L228.8,302.2L228.0,302.1L226.8,301.6L226.3,301.2L226.1,300.9L225.8,300.1L225.8,299.4L226.0,298.6L226.2,297.9L226.5,297.4L227.3,296.9L227.8,296.6L228.5,296.5L229.0,296.5L229.5,296.6L230.3,297.0L231.2,297.9L231.4,298.4L231.6,298.9L231.6,299.4L231.5,299.9L231.3,300.6L231.0,301.1L230.3,301.8L229.8,302.0L229.3,302.2Z" fill="#69dc8a"/>
<path d="M229.5,301.7L229.0,301.8L228.5,301.8L227.3,301.5L226.8,301.2L226.5,300.9L226.3,300.6L226.1,300.1L226.1,299.6L226.1,299.1L226.5,298.2L226.8,297.9L227.3,297.4L228.3,297.0L228.8,296.9L229.3,296.9L230.0,297.3L230.9,298.1L231.2,298.9L231.2,299.6L230.8,300.7L230.3,301.3L229.5,301.7Z" fill="#aee148"/>
<path d="M229.3,301.4L228.8,301.5L228.3,301.4L227.0,301.0L226.5,300.5L226.3,299.9L226.4,299.4L226.5,298.9L227.0,298.2L227.8,297.7L228.8,297.4L229.5,297.5L230.0,297.8L230.6,298.4L230.9,299.1L230.8,299.9L230.4,300.6L229.9,301.1L229.3,301.4Z" fill="#f0ce1c"/>
<path d="M229.5,301.0L229.0,301.1L228.5,301.1L227.7,300.9L227.0,300.5L226.7,300.1L226.7,299.6L226.8,299.1L227.0,298.8L227.8,298.2L228.8,297.8L229.5,298.0L230.0,298.3L230.5,298.9L230.6,299.1L230.5,299.6L230.2,300.4L229.5,301.0Z" fill="#ff8d14"/>
<path d="M229.3,300.7L228.5,300.8L228.0,300.6L227.5,300.4L227.2,300.1L227.1,299.9L227.1,299.6L227.3,299.1L227.8,298.7L228.5,298.3L229.3,298.3L229.8,298.6L230.0,298.9L230.1,299.1L230.1,299.6L229.8,300.3L229.3,300.7Z" fill="#e92610"/>
<path d="M229.3,300.2L228.8,300.4L228.0,300.2L227.6,299.9L227.6,299.6L227.7,299.4L228.0,299.0L228.5,298.8L229.0,298.7L229.3,298.8L229.5,299.0L229.7,299.4L229.6,299.9L229.3,300.2Z" fill="#d70a0a"/>
</g>
<rect x="222.5" y="283.0" width="29.30000000000001" height="23.0" fill="none" stroke="#7070f4" stroke-width="1.15"/>
<rect x="241.4" y="305.6" width="26.49999999999997" height="29.399999999999977" fill="none" stroke="#ec7e86" stroke-width="1.15"/>
<line x1="218.7" y1="277.4" x2="218.7" y2="335.8" stroke="#1c2870" stroke-width="1.0"/>
<line x1="218.2" y1="335.3" x2="273.5" y2="335.3" stroke="#1c2870" stroke-width="1.0"/>
<path d="M222.7,335.8v1.4M218.2,331.3h-1.4M226.6,335.8v1.4M218.2,327.4h-1.4M228.9,335.8v1.4M218.2,325.1h-1.4M230.5,335.8v1.4M218.2,323.5h-1.4M231.8,335.8v1.4M218.2,322.2h-1.4M232.8,335.8v1.4M218.2,321.2h-1.4M233.7,335.8v1.4M218.2,320.3h-1.4M234.4,335.8v1.4M218.2,319.6h-1.4M235.1,335.8v1.4M218.2,318.9h-1.4M235.7,335.8v1.4M218.2,318.3h-1.4M239.6,335.8v1.4M218.2,314.4h-1.4M241.9,335.8v1.4M218.2,312.1h-1.4M243.5,335.8v1.4M218.2,310.5h-1.4M244.8,335.8v1.4M218.2,309.2h-1.4M245.8,335.8v1.4M218.2,308.2h-1.4M246.7,335.8v1.4M218.2,307.3h-1.4M247.4,335.8v1.4M218.2,306.6h-1.4M248.1,335.8v1.4M218.2,305.9h-1.4M248.7,335.8v1.4M218.2,305.3h-1.4M252.6,335.8v1.4M218.2,301.4h-1.4M254.9,335.8v1.4M218.2,299.1h-1.4M256.5,335.8v1.4M218.2,297.5h-1.4M257.8,335.8v1.4M218.2,296.2h-1.4M258.8,335.8v1.4M218.2,295.2h-1.4M259.7,335.8v1.4M218.2,294.3h-1.4M260.4,335.8v1.4M218.2,293.6h-1.4M261.1,335.8v1.4M218.2,292.9h-1.4M261.7,335.8v1.4M218.2,292.3h-1.4M265.6,335.8v1.4M218.2,288.4h-1.4M267.9,335.8v1.4M218.2,286.1h-1.4M269.5,335.8v1.4M218.2,284.5h-1.4M270.8,335.8v1.4M218.2,283.2h-1.4M271.8,335.8v1.4M218.2,282.2h-1.4M218.2,281.3h-1.4M218.2,280.6h-1.4M218.2,279.9h-1.4M218.2,279.3h-1.4" stroke="#4a58a0" stroke-width="0.5" fill="none"/>
<text x="0" y="0" transform="translate(220.8,280.6) scale(0.93,1)" font-size="8.4" text-anchor="start" font-weight="normal" fill="#222" stroke="#222" stroke-width="0.15">62.97%</text>
<text x="0" y="0" transform="translate(254.8,301.8) scale(0.93,1)" font-size="8.4" text-anchor="start" font-weight="normal" fill="#222" stroke="#222" stroke-width="0.15">1.14%</text>
<text x="297.3" y="181.3" font-size="12.3" text-anchor="start" font-weight="bold" fill="#000" >D</text>
<rect x="425.2" y="183.3" width="4.4" height="4.1" fill="#2e4b84"/>
<text x="432.6" y="188.2" font-size="7.9" text-anchor="start" font-weight="normal" fill="#222" stroke="#222" stroke-width="0.12">Lymphoid (CD3/CD19)</text>
<rect x="425.2" y="194.9" width="4.4" height="4.1" fill="#ae0a32"/>
<text x="432.6" y="199.8" font-size="7.9" text-anchor="start" font-weight="normal" fill="#222" stroke="#222" stroke-width="0.12">Myeloid (CD33)</text>
<text transform="translate(317.2,239.6) rotate(-90) scale(0.775,1)" font-size="9.2" text-anchor="middle" fill="#222" stroke="#222" stroke-width="0.3">% lineages of hu-CD45</text>
<rect x="349.2" y="214.3" width="8.0" height="16.25" fill="#ae0a32"/>
<rect x="349.2" y="230.55" width="8.0" height="46.25" fill="#2e4b84"/>
<rect x="369.6" y="214.3" width="8.0" height="30.0" fill="#ae0a32"/>
<rect x="369.6" y="244.3" width="8.0" height="32.5" fill="#2e4b84"/>
<rect x="390.1" y="214.3" width="8.0" height="15.125000000000002" fill="#ae0a32"/>
<rect x="390.1" y="229.425" width="8.0" height="47.375" fill="#2e4b84"/>
<rect x="410.7" y="214.3" width="8.0" height="14.6875" fill="#ae0a32"/>
<rect x="410.7" y="228.9875" width="8.0" height="47.8125" fill="#2e4b84"/>
<rect x="431.1" y="214.3" width="8.0" height="4.375" fill="#ae0a32"/>
<rect x="431.1" y="218.675" width="8.0" height="58.125" fill="#2e4b84"/>
<rect x="451.8" y="214.3" width="8.0" height="3.6249999999999982" fill="#ae0a32"/>
<rect x="451.8" y="217.925" width="8.0" height="58.875" fill="#2e4b84"/>
<line x1="353.2" y1="205.3" x2="353.2" y2="235.6" stroke="#111" stroke-width="0.9"/>
<line x1="351.7" y1="205.3" x2="354.7" y2="205.3" stroke="#111" stroke-width="0.9"/>
<line x1="351.7" y1="235.6" x2="354.7" y2="235.6" stroke="#111" stroke-width="0.9"/>
<circle cx="353.2" cy="223.1" r="1.1" fill="none" stroke="#111" stroke-width="0.6"/>
<line x1="373.6" y1="211.4" x2="373.6" y2="216.2" stroke="#111" stroke-width="0.9"/>
<line x1="372.1" y1="211.4" x2="375.1" y2="211.4" stroke="#111" stroke-width="0.9"/>
<line x1="372.1" y1="216.2" x2="375.1" y2="216.2" stroke="#111" stroke-width="0.9"/>
<line x1="373.6" y1="243.4" x2="373.6" y2="245.0" stroke="#111" stroke-width="0.9"/>
<line x1="372.1" y1="243.4" x2="375.1" y2="243.4" stroke="#111" stroke-width="0.9"/>
<line x1="372.1" y1="245.0" x2="375.1" y2="245.0" stroke="#111" stroke-width="0.9"/>
<line x1="394.1" y1="203.3" x2="394.1" y2="254.0" stroke="#111" stroke-width="0.9"/>
<line x1="392.6" y1="203.3" x2="395.6" y2="203.3" stroke="#111" stroke-width="0.9"/>
<line x1="392.6" y1="254.0" x2="395.6" y2="254.0" stroke="#111" stroke-width="0.9"/>
<circle cx="394.1" cy="225.0" r="1.1" fill="none" stroke="#111" stroke-width="0.6"/>
<line x1="414.7" y1="214.0" x2="414.7" y2="214.6" stroke="#111" stroke-width="0.9"/>
<line x1="413.2" y1="214.0" x2="416.2" y2="214.0" stroke="#111" stroke-width="0.9"/>
<line x1="413.2" y1="214.6" x2="416.2" y2="214.6" stroke="#111" stroke-width="0.9"/>
<line x1="435.1" y1="211.4" x2="435.1" y2="224.2" stroke="#111" stroke-width="0.9"/>
<line x1="433.6" y1="211.4" x2="436.6" y2="211.4" stroke="#111" stroke-width="0.9"/>
<line x1="433.6" y1="224.2" x2="436.6" y2="224.2" stroke="#111" stroke-width="0.9"/>
<circle cx="435.1" cy="216.0" r="1.1" fill="none" stroke="#111" stroke-width="0.6"/>
<line x1="455.8" y1="212.2" x2="455.8" y2="222.0" stroke="#111" stroke-width="0.9"/>
<line x1="454.3" y1="212.2" x2="457.3" y2="212.2" stroke="#111" stroke-width="0.9"/>
<line x1="454.3" y1="222.0" x2="457.3" y2="222.0" stroke="#111" stroke-width="0.9"/>
<circle cx="455.8" cy="215.5" r="1.1" fill="none" stroke="#111" stroke-width="0.6"/>
<line x1="342.8" y1="201.5" x2="342.8" y2="277.2" stroke="#111" stroke-width="0.9"/>
<line x1="338.5" y1="276.8" x2="342.8" y2="276.8" stroke="#111" stroke-width="0.9"/>
<text x="336.2" y="279.7" font-size="8.0" text-anchor="end" font-weight="normal" fill="#222" stroke="#222" stroke-width="0.12">0</text>
<line x1="338.5" y1="264.3" x2="342.8" y2="264.3" stroke="#111" stroke-width="0.9"/>
<text x="336.2" y="267.2" font-size="8.0" text-anchor="end" font-weight="normal" fill="#222" stroke="#222" stroke-width="0.12">20</text>
<line x1="338.5" y1="251.8" x2="342.8" y2="251.8" stroke="#111" stroke-width="0.9"/>
<text x="336.2" y="254.70000000000002" font-size="8.0" text-anchor="end" font-weight="normal" fill="#222" stroke="#222" stroke-width="0.12">40</text>
<line x1="338.5" y1="239.3" x2="342.8" y2="239.3" stroke="#111" stroke-width="0.9"/>
<text x="336.2" y="242.20000000000002" font-size="8.0" text-anchor="end" font-weight="normal" fill="#222" stroke="#222" stroke-width="0.12">60</text>
<line x1="338.5" y1="226.8" x2="342.8" y2="226.8" stroke="#111" stroke-width="0.9"/>
<text x="336.2" y="229.70000000000002" font-size="8.0" text-anchor="end" font-weight="normal" fill="#222" stroke="#222" stroke-width="0.12">80</text>
<line x1="338.5" y1="214.3" x2="342.8" y2="214.3" stroke="#111" stroke-width="0.9"/>
<text x="336.2" y="217.20000000000002" font-size="8.0" text-anchor="end" font-weight="normal" fill="#222" stroke="#222" stroke-width="0.12">100</text>
<rect x="345.0" y="193.4" width="35.4" height="84.4" fill="none" stroke="#ae0a32" stroke-width="1.1"/>
<text x="363.3" y="200.6" font-size="7" text-anchor="middle" font-weight="normal" fill="#222" stroke="#222" stroke-width="0.12">**</text>
<line x1="353.3" y1="201.6" x2="373.3" y2="201.6" stroke="#111" stroke-width="0.9"/>
<line x1="342.40000000000003" y1="276.8" x2="468.8" y2="276.8" stroke="#111" stroke-width="1.0"/>
<line x1="342.8" y1="276.8" x2="342.8" y2="303.4" stroke="#555" stroke-width="0.9"/>
<line x1="363.5" y1="276.8" x2="363.5" y2="289.8" stroke="#555" stroke-width="0.9"/>
<line x1="383.9" y1="276.8" x2="383.9" y2="303.4" stroke="#555" stroke-width="0.9"/>
<line x1="404.7" y1="276.8" x2="404.7" y2="289.8" stroke="#555" stroke-width="0.9"/>
<line x1="425.1" y1="276.8" x2="425.1" y2="303.4" stroke="#555" stroke-width="0.9"/>
<line x1="445.6" y1="276.8" x2="445.6" y2="289.8" stroke="#555" stroke-width="0.9"/>
<line x1="466.2" y1="276.8" x2="466.2" y2="303.4" stroke="#555" stroke-width="0.9"/>
<text x="340.8" y="287.3" font-size="8.2" text-anchor="end" font-weight="normal" fill="#222" stroke="#222" stroke-width="0.12">MMP:</text>
<text x="353.2" y="287.3" font-size="8.2" text-anchor="middle" font-weight="normal" fill="#222" stroke="#222" stroke-width="0.12">Low</text>
<text x="373.6" y="287.3" font-size="8.2" text-anchor="middle" font-weight="normal" fill="#222" stroke="#222" stroke-width="0.12">High</text>
<text x="394.1" y="287.3" font-size="8.2" text-anchor="middle" font-weight="normal" fill="#222" stroke="#222" stroke-width="0.12">Low</text>
<text x="414.7" y="287.3" font-size="8.2" text-anchor="middle" font-weight="normal" fill="#222" stroke="#222" stroke-width="0.12">High</text>
<text x="435.1" y="287.3" font-size="8.2" text-anchor="middle" font-weight="normal" fill="#222" stroke="#222" stroke-width="0.12">Low</text>
<text x="455.8" y="287.3" font-size="8.2" text-anchor="middle" font-weight="normal" fill="#222" stroke="#222" stroke-width="0.12">High</text>
<text x="363.4" y="300.8" font-size="8.4" text-anchor="middle" font-weight="normal" fill="#222" stroke="#222" stroke-width="0.12">BM</text>
<text x="404.6" y="300.8" font-size="8.4" text-anchor="middle" font-weight="normal" fill="#222" stroke="#222" stroke-width="0.12">PB</text>
<text x="445.5" y="300.8" font-size="8.4" text-anchor="middle" font-weight="normal" fill="#222" stroke="#222" stroke-width="0.12">Spleen</text>
</g>
<rect x="0" y="0" width="520" height="1.15" fill="#000"/><rect x="0" y="0" width="1.15" height="360" fill="#000"/><rect x="518.45" y="0" width="1.55" height="360" fill="#000"/><rect x="0" y="358.45" width="520" height="1.55" fill="#000"/>
</svg>
</body></html>
